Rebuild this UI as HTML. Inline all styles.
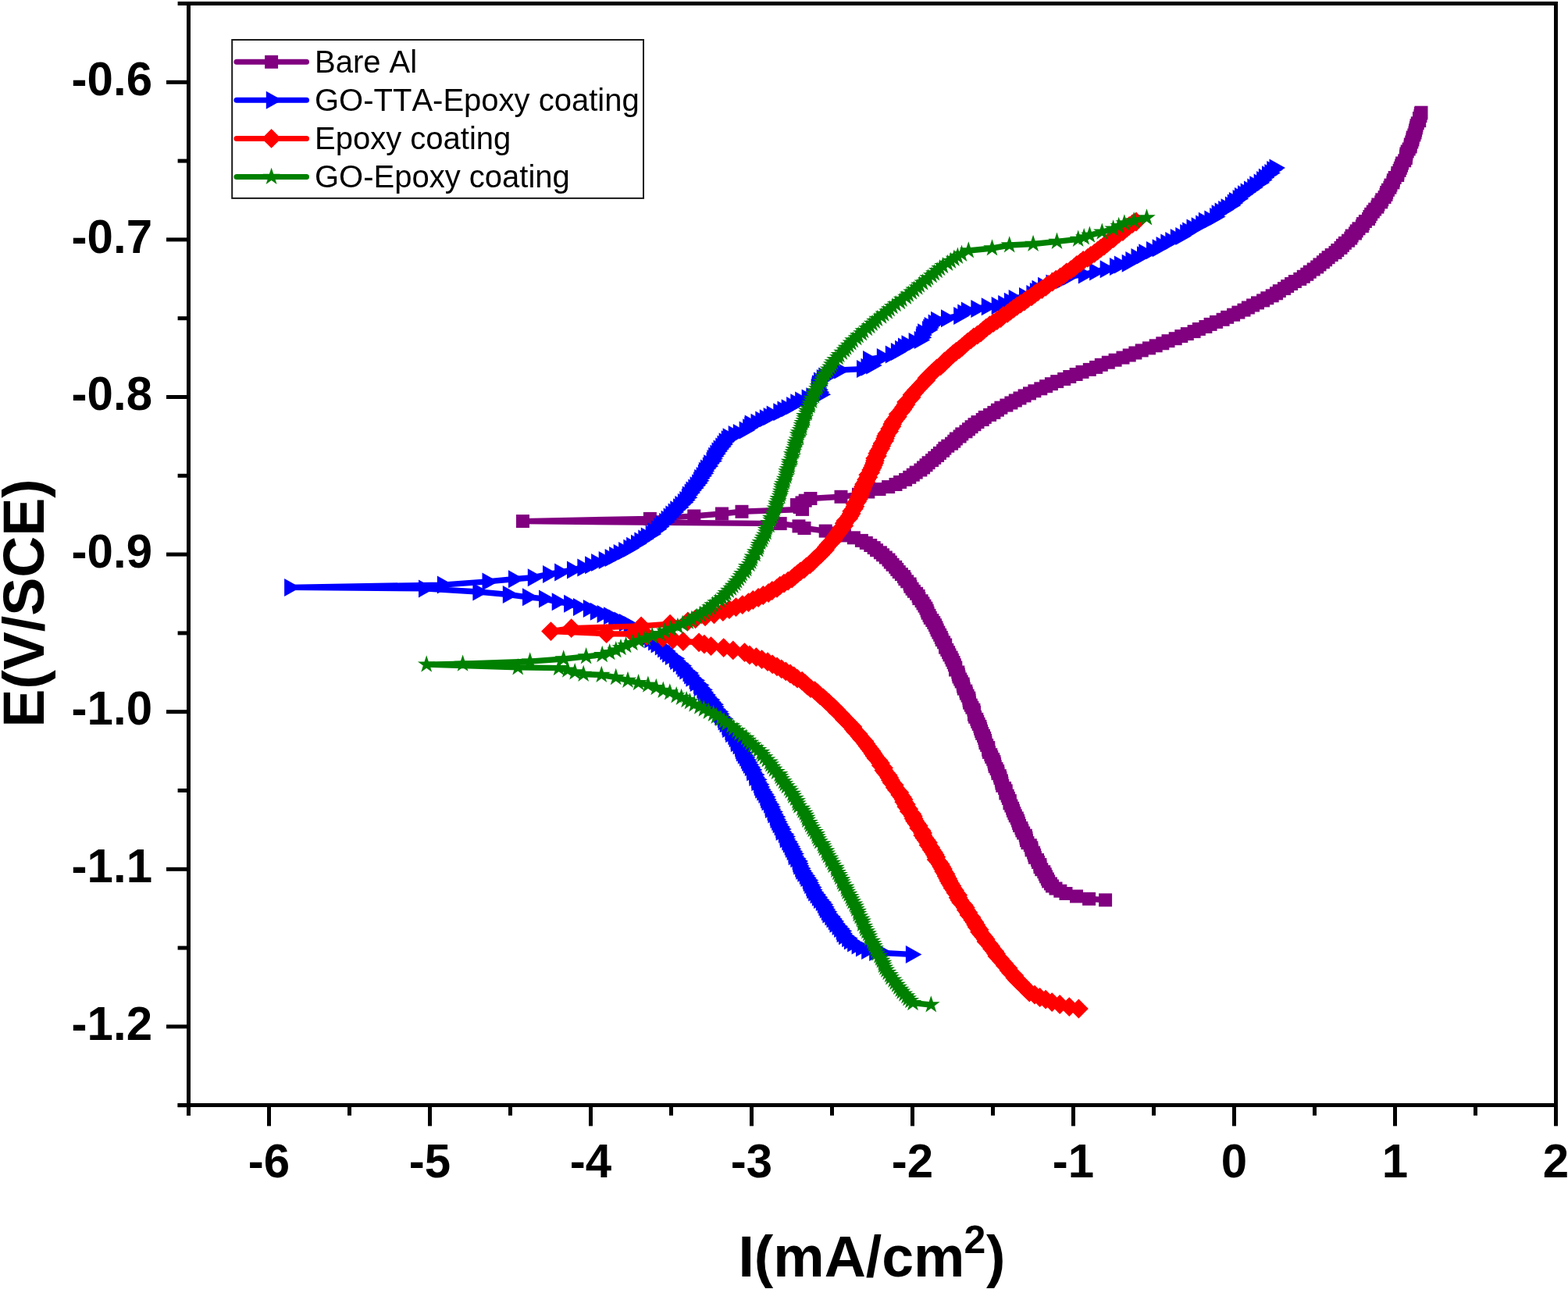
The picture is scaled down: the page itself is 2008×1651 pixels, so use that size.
<!DOCTYPE html><html><head><meta charset="utf-8"><style>html,body{margin:0;padding:0;background:#fff;overflow:hidden}svg{display:block}text{font-kerning:none}</style></head><body><svg xmlns="http://www.w3.org/2000/svg" width="2008" height="1651" viewBox="0 0 2008 1651"><g fill="#000"><rect x="227.6" y="2" width="1767.4" height="5"/><rect x="239" y="2" width="5" height="1427"/><rect x="227.6" y="1413" width="1767.4" height="5"/><rect x="1990" y="2" width="5" height="1416"/><rect x="213" y="102.8" width="27" height="5"/><rect x="213" y="304.4" width="27" height="5"/><rect x="213" y="506.0" width="27" height="5"/><rect x="213" y="707.6" width="27" height="5"/><rect x="213" y="909.2" width="27" height="5"/><rect x="213" y="1110.8" width="27" height="5"/><rect x="213" y="1312.4" width="27" height="5"/><rect x="227.6" y="203.6" width="12" height="5"/><rect x="227.6" y="405.2" width="12" height="5"/><rect x="227.6" y="606.8" width="12" height="5"/><rect x="227.6" y="808.4" width="12" height="5"/><rect x="227.6" y="1010.0" width="12" height="5"/><rect x="227.6" y="1211.6" width="12" height="5"/><rect x="227.6" y="1413.2" width="12" height="5"/><rect x="342.0" y="1417" width="5" height="25.3"/><rect x="548.0" y="1417" width="5" height="25.3"/><rect x="754.0" y="1417" width="5" height="25.3"/><rect x="960.0" y="1417" width="5" height="25.3"/><rect x="1166.0" y="1417" width="5" height="25.3"/><rect x="1372.0" y="1417" width="5" height="25.3"/><rect x="1578.0" y="1417" width="5" height="25.3"/><rect x="1784.0" y="1417" width="5" height="25.3"/><rect x="1990.0" y="1417" width="5" height="25.3"/><rect x="445.0" y="1417" width="5" height="11.8"/><rect x="651.0" y="1417" width="5" height="11.8"/><rect x="857.0" y="1417" width="5" height="11.8"/><rect x="1063.0" y="1417" width="5" height="11.8"/><rect x="1269.0" y="1417" width="5" height="11.8"/><rect x="1475.0" y="1417" width="5" height="11.8"/><rect x="1681.0" y="1417" width="5" height="11.8"/><rect x="1887.0" y="1417" width="5" height="11.8"/></g><g font-family="Liberation Sans, Arial, sans-serif" font-weight="bold" font-size="60" fill="#000"><text transform="translate(195 122.0) scale(1 1.03)" text-anchor="end">-0.6</text><text transform="translate(195 323.6) scale(1 1.03)" text-anchor="end">-0.7</text><text transform="translate(195 525.2) scale(1 1.03)" text-anchor="end">-0.8</text><text transform="translate(195 726.8) scale(1 1.03)" text-anchor="end">-0.9</text><text transform="translate(195 928.4) scale(1 1.03)" text-anchor="end">-1.0</text><text transform="translate(195 1130.0) scale(1 1.03)" text-anchor="end">-1.1</text><text transform="translate(195 1331.6) scale(1 1.03)" text-anchor="end">-1.2</text><text transform="translate(344.5 1507.9) scale(1 1.03)" text-anchor="middle">-6</text><text transform="translate(550.5 1507.9) scale(1 1.03)" text-anchor="middle">-5</text><text transform="translate(756.5 1507.9) scale(1 1.03)" text-anchor="middle">-4</text><text transform="translate(962.5 1507.9) scale(1 1.03)" text-anchor="middle">-3</text><text transform="translate(1168.5 1507.9) scale(1 1.03)" text-anchor="middle">-2</text><text transform="translate(1374.5 1507.9) scale(1 1.03)" text-anchor="middle">-1</text><text transform="translate(1580.5 1507.9) scale(1 1.03)" text-anchor="middle">0</text><text transform="translate(1786.5 1507.9) scale(1 1.03)" text-anchor="middle">1</text><text transform="translate(1992.5 1507.9) scale(1 1.03)" text-anchor="middle">2</text></g><text transform="translate(56,772.5) rotate(-90)" text-anchor="middle" font-family="Liberation Sans, Arial, sans-serif" font-weight="bold" font-size="73.5">E(V/SCE)</text><text x="945.4" y="1634.5" font-family="Liberation Sans, Arial, sans-serif" font-weight="bold" font-size="73.5">I(mA/cm<tspan x="1234.4" y="1604.8" font-size="50">2</tspan><tspan x="1263" y="1634.5">)</tspan></text><defs><path id="m0" d="M-8.5 -8.5h17v17h-17z"/><path id="m1" d="M-6.8 -11.5L13.7 0L-6.8 11.5z"/><path id="m2" d="M0 -12.4L12.4 0L0 12.4L-12.4 0z"/><path id="m3" d="M0.00 -11.80L2.70 -3.72L11.22 -3.65L4.37 1.42L6.94 9.55L0.00 4.60L-6.94 9.55L-4.37 1.42L-11.22 -3.65L-2.70 -3.72z"/></defs><rect x="297.2" y="51" width="526.8" height="202.9" fill="none" stroke="#1a1a1a" stroke-width="2"/><line x1="303" y1="79.3" x2="392.5" y2="79.3" stroke="#800080" stroke-width="7" stroke-linecap="round"/><use href="#m0" x="347.6" y="79.3" fill="#800080"/><text x="403" y="92.6" font-family="Liberation Sans, Arial, sans-serif" font-size="40">Bare Al</text><line x1="303" y1="128.3" x2="392.5" y2="128.3" stroke="#0000FF" stroke-width="7" stroke-linecap="round"/><use href="#m1" x="347.6" y="128.3" fill="#0000FF"/><text x="403" y="141.6" font-family="Liberation Sans, Arial, sans-serif" font-size="40">GO-TTA-Epoxy coating</text><line x1="303" y1="177.4" x2="392.5" y2="177.4" stroke="#FF0000" stroke-width="7" stroke-linecap="round"/><use href="#m2" x="347.6" y="177.4" fill="#FF0000"/><text x="403" y="190.7" font-family="Liberation Sans, Arial, sans-serif" font-size="40">Epoxy coating</text><line x1="303" y1="226.5" x2="392.5" y2="226.5" stroke="#008000" stroke-width="7" stroke-linecap="round"/><use href="#m3" x="347.6" y="226.5" fill="#008000"/><text x="403" y="239.8" font-family="Liberation Sans, Arial, sans-serif" font-size="40">GO-Epoxy coating</text><g fill="#800080"><path d="M1415.6 1152.8 1394.6 1151.3 1378.5 1148.0 1365.0 1144.5 1357.8 1141.2 1352.0 1138.0 1347.5 1134.9 1345.5 1131.9 1342.7 1128.9 1341.4 1125.9 1339.6 1122.8 1338.3 1119.8 1336.8 1116.7 1333.8 1113.7 1332.0 1110.6 1331.9 1107.5 1329.5 1104.4 1328.5 1101.4 1325.4 1098.3 1324.6 1095.2 1323.6 1092.1 1321.1 1088.9 1320.9 1085.8 1319.3 1082.7 1316.0 1079.6 1314.5 1076.4 1314.0 1073.3 1313.3 1070.2 1310.7 1067.0 1308.9 1063.9 1307.9 1060.7 1305.6 1057.5 1304.6 1054.4 1303.6 1051.2 1302.3 1048.0 1300.3 1044.9 1298.9 1041.7 1297.5 1038.5 1296.6 1035.3 1294.9 1032.1 1293.0 1028.9 1293.3 1025.7 1291.4 1022.5 1290.2 1019.3 1287.9 1016.1 1288.2 1012.9 1286.6 1009.6 1283.8 1006.4 1282.9 1003.2 1282.4 1000.0 1281.0 996.7 1280.3 993.7 1278.0 990.7 1277.7 987.7 1276.1 984.7 1274.2 981.7 1273.6 978.7 1273.0 975.7 1271.7 972.7 1269.8 969.7 1268.8 966.7 1266.5 963.6 1265.7 960.6 1265.7 957.6 1263.7 954.6 1262.0 951.6 1261.6 948.5 1260.7 945.5 1259.5 942.5 1257.7 939.5 1256.6 936.4 1255.6 933.4 1254.9 930.4 1253.2 927.4 1251.8 924.4 1250.8 921.3 1248.6 918.3 1247.5 915.3 1247.6 912.3 1246.9 909.2 1244.9 906.2 1243.3 903.2 1241.6 900.2 1241.1 897.1 1240.8 894.1 1239.1 891.1 1237.4 888.1 1236.8 885.1 1234.3 882.1 1233.6 879.0 1233.2 876.0 1231.2 873.0 1229.7 870.0 1228.0 867.0 1227.3 864.0 1226.8 861.0 1223.6 858.0 1223.8 855.0 1222.4 851.8 1221.1 848.5 1219.4 845.3 1218.1 842.1 1216.0 838.9 1214.6 835.7 1212.8 832.4 1210.6 829.2 1210.7 826.0 1208.6 822.8 1206.3 819.6 1205.3 816.5 1203.7 813.3 1201.9 810.1 1200.2 807.0 1199.0 803.8 1197.5 800.7 1195.8 797.6 1193.8 794.5 1191.3 791.4 1190.0 788.3 1188.1 785.2 1187.2 782.2 1185.9 779.1 1184.0 776.1 1182.0 772.9 1180.1 769.7 1176.9 766.6 1176.1 763.4 1173.6 760.3 1170.4 757.3 1168.1 754.2 1165.9 751.2 1165.1 748.0 1161.7 744.8 1158.9 741.7 1157.5 738.6 1154.4 735.6 1151.3 732.6 1148.8 729.4 1146.7 726.3 1143.1 723.3 1140.3 720.1 1138.0 717.0 1134.3 714.0 1130.6 710.8 1127.4 707.8 1122.6 704.7 1119.2 701.6 1114.8 698.5 1109.3 695.4 1103.4 692.4 1093.4 688.8 1081.4 685.9 1068.7 683.0 1057.2 680.1 1030.0 676.5 1023.0 673.9 999.2 670.6 669.5 667.6 832.4 664.4 888.8 661.0 924.5 658.0 950.0 655.3 1027.5 652.4 1024.2 649.5 1020.5 646.6 1027.0 643.9 1031.2 641.2 1038.0 638.5 1077.0 636.3 1099.5 633.3 1111.8 630.0 1126.0 626.6 1137.6 623.6 1147.0 620.5 1152.6 617.5 1159.6 614.4 1164.8 611.3 1169.3 608.2 1173.2 605.1 1178.9 602.0 1182.6 598.9 1186.0 595.8 1189.1 592.7 1193.6 589.6 1196.8 586.4 1200.6 583.4 1203.5 580.4 1207.6 577.3 1209.9 574.2 1213.8 571.2 1218.6 568.2 1221.8 565.2 1224.4 562.0 1229.1 559.0 1231.8 555.9 1237.0 552.8 1240.5 549.8 1244.1 546.7 1248.0 543.7 1252.0 540.6 1258.2 537.5 1261.3 534.4 1267.6 531.4 1272.9 528.4 1277.4 525.2 1281.9 522.2 1288.9 519.1 1294.9 516.0 1300.3 513.0 1306.0 510.0 1312.1 506.9 1318.5 503.9 1324.9 500.8 1332.8 497.8 1339.6 494.7 1346.4 491.7 1353.7 488.6 1362.7 485.5 1369.8 482.5 1378.1 479.5 1386.0 476.4 1395.3 473.4 1403.6 470.4 1410.3 467.3 1419.3 464.2 1428.1 461.2 1438.0 458.1 1446.2 455.0 1453.9 452.0 1462.2 448.9 1471.5 445.9 1480.2 442.8 1488.8 439.8 1496.0 436.7 1505.2 433.7 1512.8 430.6 1520.3 427.6 1529.1 424.6 1535.4 421.5 1543.9 418.5 1550.1 415.4 1557.5 412.4 1566.1 409.3 1571.7 406.3 1579.6 403.2 1585.9 400.1 1593.0 397.1 1598.4 394.0 1604.6 391.0 1610.5 387.9 1617.6 384.9 1622.8 381.8 1629.2 378.8 1634.5 375.8 1638.3 372.7 1644.5 369.6 1648.7 366.6 1653.6 363.5 1658.4 360.5 1664.8 357.4 1669.3 354.3 1673.8 351.3 1677.3 348.2 1682.2 345.0 1686.7 342.0 1690.0 338.9 1694.4 335.8 1697.6 332.8 1701.1 329.7 1705.2 326.6 1710.0 323.6 1712.8 320.5 1717.0 317.4 1719.5 314.3 1722.4 311.3 1726.5 308.2 1729.8 305.1 1731.2 302.0 1735.5 299.0 1737.2 295.9 1740.0 292.8 1744.4 289.7 1745.5 286.6 1748.4 283.5 1752.5 280.5 1753.9 277.4 1755.7 274.3 1758.3 271.1 1760.7 268.1 1763.9 265.1 1764.9 262.0 1768.7 258.9 1769.8 255.8 1773.1 252.6 1775.0 249.4 1775.7 246.4 1777.5 243.3 1779.9 240.2 1781.0 237.1 1783.9 233.9 1784.4 230.8 1786.2 227.5 1789.7 224.5 1789.9 221.5 1792.1 218.4 1793.3 215.3 1794.6 212.2 1795.6 209.0 1798.7 205.8 1800.3 202.6 1800.5 200.0 1800.9 197.0 1802.2 194.0 1804.2 191.0 1806.1 188.0 1806.3 185.0 1807.8 182.0 1808.9 179.0 1809.2 176.0 1810.9 173.0 1812.0 170.0 1812.6 166.9 1813.4 163.9 1814.0 160.8 1815.3 157.8 1817.7 154.7 1817.5 151.6 1818.9 148.6 1819.5 145.5 1820.0 144.2" fill="none" stroke="#800080" stroke-width="7.4" stroke-linejoin="round" stroke-linecap="round"/><use href="#m0" x="1415.6" y="1152.8"/><use href="#m0" x="1394.6" y="1151.3"/><use href="#m0" x="1378.5" y="1148.0"/><use href="#m0" x="1365.0" y="1144.5"/><use href="#m0" x="1357.8" y="1141.2"/><use href="#m0" x="1352.0" y="1138.0"/><use href="#m0" x="1347.5" y="1134.9"/><use href="#m0" x="1345.5" y="1131.9"/><use href="#m0" x="1342.7" y="1128.9"/><use href="#m0" x="1341.4" y="1125.9"/><use href="#m0" x="1339.6" y="1122.8"/><use href="#m0" x="1338.3" y="1119.8"/><use href="#m0" x="1336.8" y="1116.7"/><use href="#m0" x="1333.8" y="1113.7"/><use href="#m0" x="1332.0" y="1110.6"/><use href="#m0" x="1331.9" y="1107.5"/><use href="#m0" x="1329.5" y="1104.4"/><use href="#m0" x="1328.5" y="1101.4"/><use href="#m0" x="1325.4" y="1098.3"/><use href="#m0" x="1324.6" y="1095.2"/><use href="#m0" x="1323.6" y="1092.1"/><use href="#m0" x="1321.1" y="1088.9"/><use href="#m0" x="1320.9" y="1085.8"/><use href="#m0" x="1319.3" y="1082.7"/><use href="#m0" x="1316.0" y="1079.6"/><use href="#m0" x="1314.5" y="1076.4"/><use href="#m0" x="1314.0" y="1073.3"/><use href="#m0" x="1313.3" y="1070.2"/><use href="#m0" x="1310.7" y="1067.0"/><use href="#m0" x="1308.9" y="1063.9"/><use href="#m0" x="1307.9" y="1060.7"/><use href="#m0" x="1305.6" y="1057.5"/><use href="#m0" x="1304.6" y="1054.4"/><use href="#m0" x="1303.6" y="1051.2"/><use href="#m0" x="1302.3" y="1048.0"/><use href="#m0" x="1300.3" y="1044.9"/><use href="#m0" x="1298.9" y="1041.7"/><use href="#m0" x="1297.5" y="1038.5"/><use href="#m0" x="1296.6" y="1035.3"/><use href="#m0" x="1294.9" y="1032.1"/><use href="#m0" x="1293.0" y="1028.9"/><use href="#m0" x="1293.3" y="1025.7"/><use href="#m0" x="1291.4" y="1022.5"/><use href="#m0" x="1290.2" y="1019.3"/><use href="#m0" x="1287.9" y="1016.1"/><use href="#m0" x="1288.2" y="1012.9"/><use href="#m0" x="1286.6" y="1009.6"/><use href="#m0" x="1283.8" y="1006.4"/><use href="#m0" x="1282.9" y="1003.2"/><use href="#m0" x="1282.4" y="1000.0"/><use href="#m0" x="1281.0" y="996.7"/><use href="#m0" x="1280.3" y="993.7"/><use href="#m0" x="1278.0" y="990.7"/><use href="#m0" x="1277.7" y="987.7"/><use href="#m0" x="1276.1" y="984.7"/><use href="#m0" x="1274.2" y="981.7"/><use href="#m0" x="1273.6" y="978.7"/><use href="#m0" x="1273.0" y="975.7"/><use href="#m0" x="1271.7" y="972.7"/><use href="#m0" x="1269.8" y="969.7"/><use href="#m0" x="1268.8" y="966.7"/><use href="#m0" x="1266.5" y="963.6"/><use href="#m0" x="1265.7" y="960.6"/><use href="#m0" x="1265.7" y="957.6"/><use href="#m0" x="1263.7" y="954.6"/><use href="#m0" x="1262.0" y="951.6"/><use href="#m0" x="1261.6" y="948.5"/><use href="#m0" x="1260.7" y="945.5"/><use href="#m0" x="1259.5" y="942.5"/><use href="#m0" x="1257.7" y="939.5"/><use href="#m0" x="1256.6" y="936.4"/><use href="#m0" x="1255.6" y="933.4"/><use href="#m0" x="1254.9" y="930.4"/><use href="#m0" x="1253.2" y="927.4"/><use href="#m0" x="1251.8" y="924.4"/><use href="#m0" x="1250.8" y="921.3"/><use href="#m0" x="1248.6" y="918.3"/><use href="#m0" x="1247.5" y="915.3"/><use href="#m0" x="1247.6" y="912.3"/><use href="#m0" x="1246.9" y="909.2"/><use href="#m0" x="1244.9" y="906.2"/><use href="#m0" x="1243.3" y="903.2"/><use href="#m0" x="1241.6" y="900.2"/><use href="#m0" x="1241.1" y="897.1"/><use href="#m0" x="1240.8" y="894.1"/><use href="#m0" x="1239.1" y="891.1"/><use href="#m0" x="1237.4" y="888.1"/><use href="#m0" x="1236.8" y="885.1"/><use href="#m0" x="1234.3" y="882.1"/><use href="#m0" x="1233.6" y="879.0"/><use href="#m0" x="1233.2" y="876.0"/><use href="#m0" x="1231.2" y="873.0"/><use href="#m0" x="1229.7" y="870.0"/><use href="#m0" x="1228.0" y="867.0"/><use href="#m0" x="1227.3" y="864.0"/><use href="#m0" x="1226.8" y="861.0"/><use href="#m0" x="1223.6" y="858.0"/><use href="#m0" x="1223.8" y="855.0"/><use href="#m0" x="1222.4" y="851.8"/><use href="#m0" x="1221.1" y="848.5"/><use href="#m0" x="1219.4" y="845.3"/><use href="#m0" x="1218.1" y="842.1"/><use href="#m0" x="1216.0" y="838.9"/><use href="#m0" x="1214.6" y="835.7"/><use href="#m0" x="1212.8" y="832.4"/><use href="#m0" x="1210.6" y="829.2"/><use href="#m0" x="1210.7" y="826.0"/><use href="#m0" x="1208.6" y="822.8"/><use href="#m0" x="1206.3" y="819.6"/><use href="#m0" x="1205.3" y="816.5"/><use href="#m0" x="1203.7" y="813.3"/><use href="#m0" x="1201.9" y="810.1"/><use href="#m0" x="1200.2" y="807.0"/><use href="#m0" x="1199.0" y="803.8"/><use href="#m0" x="1197.5" y="800.7"/><use href="#m0" x="1195.8" y="797.6"/><use href="#m0" x="1193.8" y="794.5"/><use href="#m0" x="1191.3" y="791.4"/><use href="#m0" x="1190.0" y="788.3"/><use href="#m0" x="1188.1" y="785.2"/><use href="#m0" x="1187.2" y="782.2"/><use href="#m0" x="1185.9" y="779.1"/><use href="#m0" x="1184.0" y="776.1"/><use href="#m0" x="1182.0" y="772.9"/><use href="#m0" x="1180.1" y="769.7"/><use href="#m0" x="1176.9" y="766.6"/><use href="#m0" x="1176.1" y="763.4"/><use href="#m0" x="1173.6" y="760.3"/><use href="#m0" x="1170.4" y="757.3"/><use href="#m0" x="1168.1" y="754.2"/><use href="#m0" x="1165.9" y="751.2"/><use href="#m0" x="1165.1" y="748.0"/><use href="#m0" x="1161.7" y="744.8"/><use href="#m0" x="1158.9" y="741.7"/><use href="#m0" x="1157.5" y="738.6"/><use href="#m0" x="1154.4" y="735.6"/><use href="#m0" x="1151.3" y="732.6"/><use href="#m0" x="1148.8" y="729.4"/><use href="#m0" x="1146.7" y="726.3"/><use href="#m0" x="1143.1" y="723.3"/><use href="#m0" x="1140.3" y="720.1"/><use href="#m0" x="1138.0" y="717.0"/><use href="#m0" x="1134.3" y="714.0"/><use href="#m0" x="1130.6" y="710.8"/><use href="#m0" x="1127.4" y="707.8"/><use href="#m0" x="1122.6" y="704.7"/><use href="#m0" x="1119.2" y="701.6"/><use href="#m0" x="1114.8" y="698.5"/><use href="#m0" x="1109.3" y="695.4"/><use href="#m0" x="1103.4" y="692.4"/><use href="#m0" x="1093.4" y="688.8"/><use href="#m0" x="1081.4" y="685.9"/><use href="#m0" x="1068.7" y="683.0"/><use href="#m0" x="1057.2" y="680.1"/><use href="#m0" x="1030.0" y="676.5"/><use href="#m0" x="1023.0" y="673.9"/><use href="#m0" x="999.2" y="670.6"/><use href="#m0" x="669.5" y="667.6"/><use href="#m0" x="832.4" y="664.4"/><use href="#m0" x="888.8" y="661.0"/><use href="#m0" x="924.5" y="658.0"/><use href="#m0" x="950.0" y="655.3"/><use href="#m0" x="1027.5" y="652.4"/><use href="#m0" x="1024.2" y="649.5"/><use href="#m0" x="1020.5" y="646.6"/><use href="#m0" x="1027.0" y="643.9"/><use href="#m0" x="1031.2" y="641.2"/><use href="#m0" x="1038.0" y="638.5"/><use href="#m0" x="1077.0" y="636.3"/><use href="#m0" x="1099.5" y="633.3"/><use href="#m0" x="1111.8" y="630.0"/><use href="#m0" x="1126.0" y="626.6"/><use href="#m0" x="1137.6" y="623.6"/><use href="#m0" x="1147.0" y="620.5"/><use href="#m0" x="1152.6" y="617.5"/><use href="#m0" x="1159.6" y="614.4"/><use href="#m0" x="1164.8" y="611.3"/><use href="#m0" x="1169.3" y="608.2"/><use href="#m0" x="1173.2" y="605.1"/><use href="#m0" x="1178.9" y="602.0"/><use href="#m0" x="1182.6" y="598.9"/><use href="#m0" x="1186.0" y="595.8"/><use href="#m0" x="1189.1" y="592.7"/><use href="#m0" x="1193.6" y="589.6"/><use href="#m0" x="1196.8" y="586.4"/><use href="#m0" x="1200.6" y="583.4"/><use href="#m0" x="1203.5" y="580.4"/><use href="#m0" x="1207.6" y="577.3"/><use href="#m0" x="1209.9" y="574.2"/><use href="#m0" x="1213.8" y="571.2"/><use href="#m0" x="1218.6" y="568.2"/><use href="#m0" x="1221.8" y="565.2"/><use href="#m0" x="1224.4" y="562.0"/><use href="#m0" x="1229.1" y="559.0"/><use href="#m0" x="1231.8" y="555.9"/><use href="#m0" x="1237.0" y="552.8"/><use href="#m0" x="1240.5" y="549.8"/><use href="#m0" x="1244.1" y="546.7"/><use href="#m0" x="1248.0" y="543.7"/><use href="#m0" x="1252.0" y="540.6"/><use href="#m0" x="1258.2" y="537.5"/><use href="#m0" x="1261.3" y="534.4"/><use href="#m0" x="1267.6" y="531.4"/><use href="#m0" x="1272.9" y="528.4"/><use href="#m0" x="1277.4" y="525.2"/><use href="#m0" x="1281.9" y="522.2"/><use href="#m0" x="1288.9" y="519.1"/><use href="#m0" x="1294.9" y="516.0"/><use href="#m0" x="1300.3" y="513.0"/><use href="#m0" x="1306.0" y="510.0"/><use href="#m0" x="1312.1" y="506.9"/><use href="#m0" x="1318.5" y="503.9"/><use href="#m0" x="1324.9" y="500.8"/><use href="#m0" x="1332.8" y="497.8"/><use href="#m0" x="1339.6" y="494.7"/><use href="#m0" x="1346.4" y="491.7"/><use href="#m0" x="1353.7" y="488.6"/><use href="#m0" x="1362.7" y="485.5"/><use href="#m0" x="1369.8" y="482.5"/><use href="#m0" x="1378.1" y="479.5"/><use href="#m0" x="1386.0" y="476.4"/><use href="#m0" x="1395.3" y="473.4"/><use href="#m0" x="1403.6" y="470.4"/><use href="#m0" x="1410.3" y="467.3"/><use href="#m0" x="1419.3" y="464.2"/><use href="#m0" x="1428.1" y="461.2"/><use href="#m0" x="1438.0" y="458.1"/><use href="#m0" x="1446.2" y="455.0"/><use href="#m0" x="1453.9" y="452.0"/><use href="#m0" x="1462.2" y="448.9"/><use href="#m0" x="1471.5" y="445.9"/><use href="#m0" x="1480.2" y="442.8"/><use href="#m0" x="1488.8" y="439.8"/><use href="#m0" x="1496.0" y="436.7"/><use href="#m0" x="1505.2" y="433.7"/><use href="#m0" x="1512.8" y="430.6"/><use href="#m0" x="1520.3" y="427.6"/><use href="#m0" x="1529.1" y="424.6"/><use href="#m0" x="1535.4" y="421.5"/><use href="#m0" x="1543.9" y="418.5"/><use href="#m0" x="1550.1" y="415.4"/><use href="#m0" x="1557.5" y="412.4"/><use href="#m0" x="1566.1" y="409.3"/><use href="#m0" x="1571.7" y="406.3"/><use href="#m0" x="1579.6" y="403.2"/><use href="#m0" x="1585.9" y="400.1"/><use href="#m0" x="1593.0" y="397.1"/><use href="#m0" x="1598.4" y="394.0"/><use href="#m0" x="1604.6" y="391.0"/><use href="#m0" x="1610.5" y="387.9"/><use href="#m0" x="1617.6" y="384.9"/><use href="#m0" x="1622.8" y="381.8"/><use href="#m0" x="1629.2" y="378.8"/><use href="#m0" x="1634.5" y="375.8"/><use href="#m0" x="1638.3" y="372.7"/><use href="#m0" x="1644.5" y="369.6"/><use href="#m0" x="1648.7" y="366.6"/><use href="#m0" x="1653.6" y="363.5"/><use href="#m0" x="1658.4" y="360.5"/><use href="#m0" x="1664.8" y="357.4"/><use href="#m0" x="1669.3" y="354.3"/><use href="#m0" x="1673.8" y="351.3"/><use href="#m0" x="1677.3" y="348.2"/><use href="#m0" x="1682.2" y="345.0"/><use href="#m0" x="1686.7" y="342.0"/><use href="#m0" x="1690.0" y="338.9"/><use href="#m0" x="1694.4" y="335.8"/><use href="#m0" x="1697.6" y="332.8"/><use href="#m0" x="1701.1" y="329.7"/><use href="#m0" x="1705.2" y="326.6"/><use href="#m0" x="1710.0" y="323.6"/><use href="#m0" x="1712.8" y="320.5"/><use href="#m0" x="1717.0" y="317.4"/><use href="#m0" x="1719.5" y="314.3"/><use href="#m0" x="1722.4" y="311.3"/><use href="#m0" x="1726.5" y="308.2"/><use href="#m0" x="1729.8" y="305.1"/><use href="#m0" x="1731.2" y="302.0"/><use href="#m0" x="1735.5" y="299.0"/><use href="#m0" x="1737.2" y="295.9"/><use href="#m0" x="1740.0" y="292.8"/><use href="#m0" x="1744.4" y="289.7"/><use href="#m0" x="1745.5" y="286.6"/><use href="#m0" x="1748.4" y="283.5"/><use href="#m0" x="1752.5" y="280.5"/><use href="#m0" x="1753.9" y="277.4"/><use href="#m0" x="1755.7" y="274.3"/><use href="#m0" x="1758.3" y="271.1"/><use href="#m0" x="1760.7" y="268.1"/><use href="#m0" x="1763.9" y="265.1"/><use href="#m0" x="1764.9" y="262.0"/><use href="#m0" x="1768.7" y="258.9"/><use href="#m0" x="1769.8" y="255.8"/><use href="#m0" x="1773.1" y="252.6"/><use href="#m0" x="1775.0" y="249.4"/><use href="#m0" x="1775.7" y="246.4"/><use href="#m0" x="1777.5" y="243.3"/><use href="#m0" x="1779.9" y="240.2"/><use href="#m0" x="1781.0" y="237.1"/><use href="#m0" x="1783.9" y="233.9"/><use href="#m0" x="1784.4" y="230.8"/><use href="#m0" x="1786.2" y="227.5"/><use href="#m0" x="1789.7" y="224.5"/><use href="#m0" x="1789.9" y="221.5"/><use href="#m0" x="1792.1" y="218.4"/><use href="#m0" x="1793.3" y="215.3"/><use href="#m0" x="1794.6" y="212.2"/><use href="#m0" x="1795.6" y="209.0"/><use href="#m0" x="1798.7" y="205.8"/><use href="#m0" x="1800.3" y="202.6"/><use href="#m0" x="1800.5" y="200.0"/><use href="#m0" x="1800.9" y="197.0"/><use href="#m0" x="1802.2" y="194.0"/><use href="#m0" x="1804.2" y="191.0"/><use href="#m0" x="1806.1" y="188.0"/><use href="#m0" x="1806.3" y="185.0"/><use href="#m0" x="1807.8" y="182.0"/><use href="#m0" x="1808.9" y="179.0"/><use href="#m0" x="1809.2" y="176.0"/><use href="#m0" x="1810.9" y="173.0"/><use href="#m0" x="1812.0" y="170.0"/><use href="#m0" x="1812.6" y="166.9"/><use href="#m0" x="1813.4" y="163.9"/><use href="#m0" x="1814.0" y="160.8"/><use href="#m0" x="1815.3" y="157.8"/><use href="#m0" x="1817.7" y="154.7"/><use href="#m0" x="1817.5" y="151.6"/><use href="#m0" x="1818.9" y="148.6"/><use href="#m0" x="1819.5" y="145.5"/><use href="#m0" x="1820.0" y="144.2"/></g><g fill="#0000FF"><path d="M1166.7 1222.4 1130.0 1220.5 1120.0 1219.5 1110.0 1217.5 1102.8 1214.1 1097.4 1211.1 1092.0 1208.0 1087.7 1204.9 1085.0 1201.7 1080.8 1198.7 1078.4 1195.7 1077.5 1192.6 1074.9 1189.5 1072.4 1186.4 1069.3 1183.3 1067.6 1180.1 1065.3 1176.9 1063.2 1173.9 1060.2 1170.9 1058.7 1167.8 1056.6 1164.8 1055.2 1161.7 1053.7 1158.6 1051.6 1155.5 1048.8 1152.4 1046.7 1149.2 1044.4 1146.1 1042.0 1142.9 1040.0 1139.7 1039.0 1136.5 1037.0 1133.5 1035.4 1130.5 1034.6 1127.5 1032.2 1124.4 1030.6 1121.4 1028.2 1118.3 1026.1 1115.3 1025.0 1112.2 1023.0 1109.1 1022.1 1106.0 1021.4 1102.9 1019.1 1099.8 1016.5 1096.7 1016.3 1093.6 1014.5 1090.5 1012.7 1087.3 1011.5 1084.2 1009.6 1081.0 1008.1 1077.9 1005.6 1074.7 1005.3 1071.6 1003.7 1068.4 1000.5 1065.2 1000.1 1062.1 998.4 1058.9 996.4 1055.7 995.0 1052.5 993.3 1049.4 992.6 1046.2 990.2 1043.0 989.3 1039.8 986.8 1036.6 986.3 1033.4 984.8 1030.3 982.3 1027.1 981.0 1023.9 980.1 1020.7 978.2 1017.5 976.1 1014.3 974.0 1011.2 972.6 1008.0 971.8 1004.8 969.2 1001.7 969.0 998.5 966.2 995.4 965.9 992.2 963.0 989.1 962.7 985.9 960.6 982.8 958.6 979.6 957.0 976.5 955.6 973.4 953.8 970.3 951.6 967.2 949.7 964.1 948.6 961.0 947.8 958.0 945.4 954.9 942.6 951.8 942.4 948.8 940.5 945.7 939.1 942.7 935.9 939.7 935.2 936.7 931.9 933.5 931.1 930.3 928.4 927.1 926.4 924.0 925.7 920.8 922.1 917.7 920.9 914.6 919.5 911.5 916.2 908.4 914.1 905.3 913.3 902.3 910.3 899.3 908.7 896.3 905.0 893.1 903.3 889.9 900.6 886.8 899.2 883.6 895.5 880.6 894.8 877.5 890.5 874.4 889.4 871.4 885.2 868.2 882.9 865.1 881.3 862.0 877.1 858.9 874.3 855.9 872.4 852.8 868.7 849.7 864.9 846.6 863.6 843.5 858.6 840.4 854.9 837.3 852.0 834.1 848.9 831.1 845.6 828.1 840.4 824.9 836.9 821.9 832.2 818.8 828.7 815.7 825.0 812.7 820.3 809.6 815.8 806.5 810.5 803.4 805.5 800.4 799.7 797.4 793.2 795.1 786.0 792.0 779.8 788.8 771.4 786.4 762.6 783.3 753.6 779.4 740.8 777.4 728.9 773.2 713.5 770.8 696.8 766.9 675.8 764.8 650.6 761.5 612.2 758.0 542.8 753.9 370.9 752.4 566.7 749.1 624.3 744.9 657.8 741.7 682.6 739.7 701.8 735.5 716.9 733.1 732.8 729.9 746.2 726.9 755.9 723.7 763.9 720.6 773.5 717.6 781.4 714.5 786.9 711.5 792.5 708.4 798.9 705.4 805.2 702.3 808.9 699.3 814.8 696.2 819.2 693.1 824.1 690.0 827.6 687.0 833.5 683.9 836.1 680.8 840.7 677.7 843.9 674.6 846.6 671.5 851.0 668.4 853.4 665.3 856.4 662.1 859.2 659.1 862.4 656.0 865.1 652.8 868.9 649.7 871.2 646.6 874.7 643.5 877.1 640.4 879.7 637.3 880.6 634.1 883.4 630.9 885.3 627.9 888.1 624.9 890.4 621.8 892.9 618.8 894.8 615.7 896.0 612.6 898.4 609.4 900.7 606.3 901.7 603.2 903.8 600.0 906.6 596.9 908.0 593.8 911.3 590.6 912.3 587.5 914.0 584.3 916.2 581.2 918.3 578.1 920.4 575.1 923.1 572.0 925.3 568.9 927.4 565.8 930.5 562.8 932.4 559.7 939.5 556.5 945.6 554.4 953.4 551.0 957.9 547.8 960.1 545.3 960.5 542.9 968.3 541.3 974.1 538.0 979.6 535.8 984.5 533.4 988.5 531.0 997.1 527.7 1002.3 525.1 1007.5 522.8 1013.9 519.6 1019.1 515.7 1025.0 513.1 1033.4 509.9 1039.2 507.7 1050.4 505.2 1048.6 502.3 1047.2 499.3 1045.5 496.4 1046.3 494.1 1046.8 491.8 1048.8 488.1 1052.6 484.4 1055.1 481.9 1061.6 479.3 1068.4 476.6 1075.0 474.0 1103.8 472.6 1109.3 470.3 1116.0 468.0 1113.1 464.2 1111.8 460.5 1129.6 457.4 1140.6 454.1 1147.7 450.4 1152.9 447.2 1156.8 444.0 1161.3 440.7 1170.4 437.5 1177.5 435.5 1179.6 432.3 1180.2 429.0 1182.0 425.8 1187.8 422.6 1189.1 420.0 1190.4 417.4 1195.5 413.9 1198.9 410.3 1211.8 407.7 1228.0 404.4 1233.1 401.1 1237.7 397.9 1250.2 395.4 1263.6 392.8 1276.5 391.5 1285.0 389.6 1292.7 386.3 1298.5 382.4 1311.8 379.6 1321.2 376.5 1325.7 373.4 1328.3 370.2 1335.9 366.2 1346.3 363.0 1353.4 360.3 1360.6 358.1 1368.3 354.2 1387.7 351.9 1401.9 348.1 1415.5 344.8 1427.8 341.6 1433.7 339.0 1443.5 337.2 1448.2 333.5 1455.3 329.6 1462.8 326.7 1465.1 323.8 1474.8 320.6 1482.5 317.7 1487.4 314.4 1493.1 311.1 1499.1 308.6 1505.6 304.6 1512.1 302.4 1518.0 298.6 1521.0 295.9 1526.3 291.9 1532.5 289.7 1538.0 286.9 1541.7 283.2 1549.2 281.0 1555.9 277.5 1558.4 273.7 1562.4 271.1 1567.0 268.5 1570.4 265.7 1575.7 262.9 1578.6 260.1 1580.7 257.4 1585.4 254.6 1587.8 251.6 1591.8 248.7 1595.4 245.9 1599.8 243.1 1604.1 239.9 1607.1 236.8 1612.4 233.9 1615.9 230.6 1618.7 227.3 1622.8 223.7 1626.2 221.5 1629.1 217.6 1632.3 215.0" fill="none" stroke="#0000FF" stroke-width="7.4" stroke-linejoin="round" stroke-linecap="round"/><use href="#m1" x="1166.7" y="1222.4"/><use href="#m1" x="1130.0" y="1220.5"/><use href="#m1" x="1120.0" y="1219.5"/><use href="#m1" x="1110.0" y="1217.5"/><use href="#m1" x="1102.8" y="1214.1"/><use href="#m1" x="1097.4" y="1211.1"/><use href="#m1" x="1092.0" y="1208.0"/><use href="#m1" x="1087.7" y="1204.9"/><use href="#m1" x="1085.0" y="1201.7"/><use href="#m1" x="1080.8" y="1198.7"/><use href="#m1" x="1078.4" y="1195.7"/><use href="#m1" x="1077.5" y="1192.6"/><use href="#m1" x="1074.9" y="1189.5"/><use href="#m1" x="1072.4" y="1186.4"/><use href="#m1" x="1069.3" y="1183.3"/><use href="#m1" x="1067.6" y="1180.1"/><use href="#m1" x="1065.3" y="1176.9"/><use href="#m1" x="1063.2" y="1173.9"/><use href="#m1" x="1060.2" y="1170.9"/><use href="#m1" x="1058.7" y="1167.8"/><use href="#m1" x="1056.6" y="1164.8"/><use href="#m1" x="1055.2" y="1161.7"/><use href="#m1" x="1053.7" y="1158.6"/><use href="#m1" x="1051.6" y="1155.5"/><use href="#m1" x="1048.8" y="1152.4"/><use href="#m1" x="1046.7" y="1149.2"/><use href="#m1" x="1044.4" y="1146.1"/><use href="#m1" x="1042.0" y="1142.9"/><use href="#m1" x="1040.0" y="1139.7"/><use href="#m1" x="1039.0" y="1136.5"/><use href="#m1" x="1037.0" y="1133.5"/><use href="#m1" x="1035.4" y="1130.5"/><use href="#m1" x="1034.6" y="1127.5"/><use href="#m1" x="1032.2" y="1124.4"/><use href="#m1" x="1030.6" y="1121.4"/><use href="#m1" x="1028.2" y="1118.3"/><use href="#m1" x="1026.1" y="1115.3"/><use href="#m1" x="1025.0" y="1112.2"/><use href="#m1" x="1023.0" y="1109.1"/><use href="#m1" x="1022.1" y="1106.0"/><use href="#m1" x="1021.4" y="1102.9"/><use href="#m1" x="1019.1" y="1099.8"/><use href="#m1" x="1016.5" y="1096.7"/><use href="#m1" x="1016.3" y="1093.6"/><use href="#m1" x="1014.5" y="1090.5"/><use href="#m1" x="1012.7" y="1087.3"/><use href="#m1" x="1011.5" y="1084.2"/><use href="#m1" x="1009.6" y="1081.0"/><use href="#m1" x="1008.1" y="1077.9"/><use href="#m1" x="1005.6" y="1074.7"/><use href="#m1" x="1005.3" y="1071.6"/><use href="#m1" x="1003.7" y="1068.4"/><use href="#m1" x="1000.5" y="1065.2"/><use href="#m1" x="1000.1" y="1062.1"/><use href="#m1" x="998.4" y="1058.9"/><use href="#m1" x="996.4" y="1055.7"/><use href="#m1" x="995.0" y="1052.5"/><use href="#m1" x="993.3" y="1049.4"/><use href="#m1" x="992.6" y="1046.2"/><use href="#m1" x="990.2" y="1043.0"/><use href="#m1" x="989.3" y="1039.8"/><use href="#m1" x="986.8" y="1036.6"/><use href="#m1" x="986.3" y="1033.4"/><use href="#m1" x="984.8" y="1030.3"/><use href="#m1" x="982.3" y="1027.1"/><use href="#m1" x="981.0" y="1023.9"/><use href="#m1" x="980.1" y="1020.7"/><use href="#m1" x="978.2" y="1017.5"/><use href="#m1" x="976.1" y="1014.3"/><use href="#m1" x="974.0" y="1011.2"/><use href="#m1" x="972.6" y="1008.0"/><use href="#m1" x="971.8" y="1004.8"/><use href="#m1" x="969.2" y="1001.7"/><use href="#m1" x="969.0" y="998.5"/><use href="#m1" x="966.2" y="995.4"/><use href="#m1" x="965.9" y="992.2"/><use href="#m1" x="963.0" y="989.1"/><use href="#m1" x="962.7" y="985.9"/><use href="#m1" x="960.6" y="982.8"/><use href="#m1" x="958.6" y="979.6"/><use href="#m1" x="957.0" y="976.5"/><use href="#m1" x="955.6" y="973.4"/><use href="#m1" x="953.8" y="970.3"/><use href="#m1" x="951.6" y="967.2"/><use href="#m1" x="949.7" y="964.1"/><use href="#m1" x="948.6" y="961.0"/><use href="#m1" x="947.8" y="958.0"/><use href="#m1" x="945.4" y="954.9"/><use href="#m1" x="942.6" y="951.8"/><use href="#m1" x="942.4" y="948.8"/><use href="#m1" x="940.5" y="945.7"/><use href="#m1" x="939.1" y="942.7"/><use href="#m1" x="935.9" y="939.7"/><use href="#m1" x="935.2" y="936.7"/><use href="#m1" x="931.9" y="933.5"/><use href="#m1" x="931.1" y="930.3"/><use href="#m1" x="928.4" y="927.1"/><use href="#m1" x="926.4" y="924.0"/><use href="#m1" x="925.7" y="920.8"/><use href="#m1" x="922.1" y="917.7"/><use href="#m1" x="920.9" y="914.6"/><use href="#m1" x="919.5" y="911.5"/><use href="#m1" x="916.2" y="908.4"/><use href="#m1" x="914.1" y="905.3"/><use href="#m1" x="913.3" y="902.3"/><use href="#m1" x="910.3" y="899.3"/><use href="#m1" x="908.7" y="896.3"/><use href="#m1" x="905.0" y="893.1"/><use href="#m1" x="903.3" y="889.9"/><use href="#m1" x="900.6" y="886.8"/><use href="#m1" x="899.2" y="883.6"/><use href="#m1" x="895.5" y="880.6"/><use href="#m1" x="894.8" y="877.5"/><use href="#m1" x="890.5" y="874.4"/><use href="#m1" x="889.4" y="871.4"/><use href="#m1" x="885.2" y="868.2"/><use href="#m1" x="882.9" y="865.1"/><use href="#m1" x="881.3" y="862.0"/><use href="#m1" x="877.1" y="858.9"/><use href="#m1" x="874.3" y="855.9"/><use href="#m1" x="872.4" y="852.8"/><use href="#m1" x="868.7" y="849.7"/><use href="#m1" x="864.9" y="846.6"/><use href="#m1" x="863.6" y="843.5"/><use href="#m1" x="858.6" y="840.4"/><use href="#m1" x="854.9" y="837.3"/><use href="#m1" x="852.0" y="834.1"/><use href="#m1" x="848.9" y="831.1"/><use href="#m1" x="845.6" y="828.1"/><use href="#m1" x="840.4" y="824.9"/><use href="#m1" x="836.9" y="821.9"/><use href="#m1" x="832.2" y="818.8"/><use href="#m1" x="828.7" y="815.7"/><use href="#m1" x="825.0" y="812.7"/><use href="#m1" x="820.3" y="809.6"/><use href="#m1" x="815.8" y="806.5"/><use href="#m1" x="810.5" y="803.4"/><use href="#m1" x="805.5" y="800.4"/><use href="#m1" x="799.7" y="797.4"/><use href="#m1" x="793.2" y="795.1"/><use href="#m1" x="786.0" y="792.0"/><use href="#m1" x="779.8" y="788.8"/><use href="#m1" x="771.4" y="786.4"/><use href="#m1" x="762.6" y="783.3"/><use href="#m1" x="753.6" y="779.4"/><use href="#m1" x="740.8" y="777.4"/><use href="#m1" x="728.9" y="773.2"/><use href="#m1" x="713.5" y="770.8"/><use href="#m1" x="696.8" y="766.9"/><use href="#m1" x="675.8" y="764.8"/><use href="#m1" x="650.6" y="761.5"/><use href="#m1" x="612.2" y="758.0"/><use href="#m1" x="542.8" y="753.9"/><use href="#m1" x="370.9" y="752.4"/><use href="#m1" x="566.7" y="749.1"/><use href="#m1" x="624.3" y="744.9"/><use href="#m1" x="657.8" y="741.7"/><use href="#m1" x="682.6" y="739.7"/><use href="#m1" x="701.8" y="735.5"/><use href="#m1" x="716.9" y="733.1"/><use href="#m1" x="732.8" y="729.9"/><use href="#m1" x="746.2" y="726.9"/><use href="#m1" x="755.9" y="723.7"/><use href="#m1" x="763.9" y="720.6"/><use href="#m1" x="773.5" y="717.6"/><use href="#m1" x="781.4" y="714.5"/><use href="#m1" x="786.9" y="711.5"/><use href="#m1" x="792.5" y="708.4"/><use href="#m1" x="798.9" y="705.4"/><use href="#m1" x="805.2" y="702.3"/><use href="#m1" x="808.9" y="699.3"/><use href="#m1" x="814.8" y="696.2"/><use href="#m1" x="819.2" y="693.1"/><use href="#m1" x="824.1" y="690.0"/><use href="#m1" x="827.6" y="687.0"/><use href="#m1" x="833.5" y="683.9"/><use href="#m1" x="836.1" y="680.8"/><use href="#m1" x="840.7" y="677.7"/><use href="#m1" x="843.9" y="674.6"/><use href="#m1" x="846.6" y="671.5"/><use href="#m1" x="851.0" y="668.4"/><use href="#m1" x="853.4" y="665.3"/><use href="#m1" x="856.4" y="662.1"/><use href="#m1" x="859.2" y="659.1"/><use href="#m1" x="862.4" y="656.0"/><use href="#m1" x="865.1" y="652.8"/><use href="#m1" x="868.9" y="649.7"/><use href="#m1" x="871.2" y="646.6"/><use href="#m1" x="874.7" y="643.5"/><use href="#m1" x="877.1" y="640.4"/><use href="#m1" x="879.7" y="637.3"/><use href="#m1" x="880.6" y="634.1"/><use href="#m1" x="883.4" y="630.9"/><use href="#m1" x="885.3" y="627.9"/><use href="#m1" x="888.1" y="624.9"/><use href="#m1" x="890.4" y="621.8"/><use href="#m1" x="892.9" y="618.8"/><use href="#m1" x="894.8" y="615.7"/><use href="#m1" x="896.0" y="612.6"/><use href="#m1" x="898.4" y="609.4"/><use href="#m1" x="900.7" y="606.3"/><use href="#m1" x="901.7" y="603.2"/><use href="#m1" x="903.8" y="600.0"/><use href="#m1" x="906.6" y="596.9"/><use href="#m1" x="908.0" y="593.8"/><use href="#m1" x="911.3" y="590.6"/><use href="#m1" x="912.3" y="587.5"/><use href="#m1" x="914.0" y="584.3"/><use href="#m1" x="916.2" y="581.2"/><use href="#m1" x="918.3" y="578.1"/><use href="#m1" x="920.4" y="575.1"/><use href="#m1" x="923.1" y="572.0"/><use href="#m1" x="925.3" y="568.9"/><use href="#m1" x="927.4" y="565.8"/><use href="#m1" x="930.5" y="562.8"/><use href="#m1" x="932.4" y="559.7"/><use href="#m1" x="939.5" y="556.5"/><use href="#m1" x="945.6" y="554.4"/><use href="#m1" x="953.4" y="551.0"/><use href="#m1" x="957.9" y="547.8"/><use href="#m1" x="960.1" y="545.3"/><use href="#m1" x="960.5" y="542.9"/><use href="#m1" x="968.3" y="541.3"/><use href="#m1" x="974.1" y="538.0"/><use href="#m1" x="979.6" y="535.8"/><use href="#m1" x="984.5" y="533.4"/><use href="#m1" x="988.5" y="531.0"/><use href="#m1" x="997.1" y="527.7"/><use href="#m1" x="1002.3" y="525.1"/><use href="#m1" x="1007.5" y="522.8"/><use href="#m1" x="1013.9" y="519.6"/><use href="#m1" x="1019.1" y="515.7"/><use href="#m1" x="1025.0" y="513.1"/><use href="#m1" x="1033.4" y="509.9"/><use href="#m1" x="1039.2" y="507.7"/><use href="#m1" x="1050.4" y="505.2"/><use href="#m1" x="1048.6" y="502.3"/><use href="#m1" x="1047.2" y="499.3"/><use href="#m1" x="1045.5" y="496.4"/><use href="#m1" x="1046.3" y="494.1"/><use href="#m1" x="1046.8" y="491.8"/><use href="#m1" x="1048.8" y="488.1"/><use href="#m1" x="1052.6" y="484.4"/><use href="#m1" x="1055.1" y="481.9"/><use href="#m1" x="1061.6" y="479.3"/><use href="#m1" x="1068.4" y="476.6"/><use href="#m1" x="1075.0" y="474.0"/><use href="#m1" x="1103.8" y="472.6"/><use href="#m1" x="1109.3" y="470.3"/><use href="#m1" x="1116.0" y="468.0"/><use href="#m1" x="1113.1" y="464.2"/><use href="#m1" x="1111.8" y="460.5"/><use href="#m1" x="1129.6" y="457.4"/><use href="#m1" x="1140.6" y="454.1"/><use href="#m1" x="1147.7" y="450.4"/><use href="#m1" x="1152.9" y="447.2"/><use href="#m1" x="1156.8" y="444.0"/><use href="#m1" x="1161.3" y="440.7"/><use href="#m1" x="1170.4" y="437.5"/><use href="#m1" x="1177.5" y="435.5"/><use href="#m1" x="1179.6" y="432.3"/><use href="#m1" x="1180.2" y="429.0"/><use href="#m1" x="1182.0" y="425.8"/><use href="#m1" x="1187.8" y="422.6"/><use href="#m1" x="1189.1" y="420.0"/><use href="#m1" x="1190.4" y="417.4"/><use href="#m1" x="1195.5" y="413.9"/><use href="#m1" x="1198.9" y="410.3"/><use href="#m1" x="1211.8" y="407.7"/><use href="#m1" x="1228.0" y="404.4"/><use href="#m1" x="1233.1" y="401.1"/><use href="#m1" x="1237.7" y="397.9"/><use href="#m1" x="1250.2" y="395.4"/><use href="#m1" x="1263.6" y="392.8"/><use href="#m1" x="1276.5" y="391.5"/><use href="#m1" x="1285.0" y="389.6"/><use href="#m1" x="1292.7" y="386.3"/><use href="#m1" x="1298.5" y="382.4"/><use href="#m1" x="1311.8" y="379.6"/><use href="#m1" x="1321.2" y="376.5"/><use href="#m1" x="1325.7" y="373.4"/><use href="#m1" x="1328.3" y="370.2"/><use href="#m1" x="1335.9" y="366.2"/><use href="#m1" x="1346.3" y="363.0"/><use href="#m1" x="1353.4" y="360.3"/><use href="#m1" x="1360.6" y="358.1"/><use href="#m1" x="1368.3" y="354.2"/><use href="#m1" x="1387.7" y="351.9"/><use href="#m1" x="1401.9" y="348.1"/><use href="#m1" x="1415.5" y="344.8"/><use href="#m1" x="1427.8" y="341.6"/><use href="#m1" x="1433.7" y="339.0"/><use href="#m1" x="1443.5" y="337.2"/><use href="#m1" x="1448.2" y="333.5"/><use href="#m1" x="1455.3" y="329.6"/><use href="#m1" x="1462.8" y="326.7"/><use href="#m1" x="1465.1" y="323.8"/><use href="#m1" x="1474.8" y="320.6"/><use href="#m1" x="1482.5" y="317.7"/><use href="#m1" x="1487.4" y="314.4"/><use href="#m1" x="1493.1" y="311.1"/><use href="#m1" x="1499.1" y="308.6"/><use href="#m1" x="1505.6" y="304.6"/><use href="#m1" x="1512.1" y="302.4"/><use href="#m1" x="1518.0" y="298.6"/><use href="#m1" x="1521.0" y="295.9"/><use href="#m1" x="1526.3" y="291.9"/><use href="#m1" x="1532.5" y="289.7"/><use href="#m1" x="1538.0" y="286.9"/><use href="#m1" x="1541.7" y="283.2"/><use href="#m1" x="1549.2" y="281.0"/><use href="#m1" x="1555.9" y="277.5"/><use href="#m1" x="1558.4" y="273.7"/><use href="#m1" x="1562.4" y="271.1"/><use href="#m1" x="1567.0" y="268.5"/><use href="#m1" x="1570.4" y="265.7"/><use href="#m1" x="1575.7" y="262.9"/><use href="#m1" x="1578.6" y="260.1"/><use href="#m1" x="1580.7" y="257.4"/><use href="#m1" x="1585.4" y="254.6"/><use href="#m1" x="1587.8" y="251.6"/><use href="#m1" x="1591.8" y="248.7"/><use href="#m1" x="1595.4" y="245.9"/><use href="#m1" x="1599.8" y="243.1"/><use href="#m1" x="1604.1" y="239.9"/><use href="#m1" x="1607.1" y="236.8"/><use href="#m1" x="1612.4" y="233.9"/><use href="#m1" x="1615.9" y="230.6"/><use href="#m1" x="1618.7" y="227.3"/><use href="#m1" x="1622.8" y="223.7"/><use href="#m1" x="1626.2" y="221.5"/><use href="#m1" x="1629.1" y="217.6"/><use href="#m1" x="1632.3" y="215.0"/></g><g fill="#FF0000"><path d="M1381.4 1292.0 1369.3 1289.6 1357.2 1286.5 1347.2 1283.6 1339.1 1280.2 1331.7 1277.5 1325.0 1274.1 1318.3 1271.1 1315.6 1267.9 1312.3 1264.9 1309.7 1261.8 1306.8 1258.7 1302.8 1255.6 1299.9 1252.5 1298.7 1249.3 1294.7 1246.2 1292.1 1243.1 1291.0 1240.1 1287.4 1237.1 1285.7 1234.0 1282.5 1230.9 1280.3 1227.8 1276.9 1224.7 1275.5 1221.5 1273.6 1218.4 1270.5 1215.2 1268.6 1212.0 1266.3 1209.0 1263.0 1206.0 1262.2 1202.9 1259.8 1199.9 1257.1 1196.8 1254.5 1193.7 1254.1 1190.7 1251.2 1187.6 1249.7 1184.5 1248.0 1181.3 1245.7 1178.2 1244.1 1175.1 1241.0 1171.9 1239.9 1168.8 1237.2 1165.6 1236.3 1162.4 1234.2 1159.3 1230.7 1156.1 1228.9 1152.9 1227.1 1149.7 1226.7 1146.5 1223.9 1143.5 1222.5 1140.4 1220.1 1137.4 1218.8 1134.4 1216.8 1131.4 1215.0 1128.3 1213.7 1125.3 1212.0 1122.3 1210.9 1119.2 1208.7 1116.2 1207.5 1113.1 1205.7 1110.1 1204.2 1107.0 1201.9 1103.9 1199.1 1100.9 1198.8 1097.8 1197.3 1094.7 1195.5 1091.7 1193.1 1088.6 1191.7 1085.5 1189.0 1082.4 1188.5 1079.3 1186.2 1076.2 1183.9 1073.2 1181.8 1070.1 1181.6 1067.0 1180.2 1063.9 1176.7 1060.8 1176.3 1057.8 1173.8 1054.7 1171.6 1051.6 1170.1 1048.5 1169.3 1045.5 1167.7 1042.4 1164.3 1039.3 1163.7 1036.3 1160.8 1033.2 1160.3 1030.2 1157.8 1027.2 1157.1 1024.1 1155.4 1021.1 1152.7 1018.1 1151.8 1015.1 1148.6 1012.1 1146.2 1008.8 1145.2 1005.6 1142.1 1002.5 1140.4 999.3 1138.8 996.1 1137.2 993.0 1134.2 989.8 1131.9 986.7 1131.5 983.6 1128.3 980.5 1127.5 977.4 1125.2 974.3 1122.0 971.2 1120.0 968.2 1118.0 965.2 1116.0 962.1 1113.6 959.0 1111.1 955.8 1108.8 952.6 1107.0 949.5 1103.7 946.4 1101.1 943.3 1099.2 940.2 1095.7 937.2 1093.3 934.2 1091.9 931.0 1088.2 927.9 1085.5 924.7 1081.6 921.7 1079.6 918.6 1077.0 915.6 1072.8 912.4 1070.9 909.3 1067.7 906.2 1063.4 903.1 1061.3 900.1 1057.5 897.0 1054.4 893.9 1050.2 890.9 1047.1 887.7 1043.4 884.6 1038.0 881.6 1034.0 878.4 1031.0 875.4 1027.1 872.2 1021.1 869.2 1016.7 866.0 1012.0 863.0 1006.3 859.9 1000.8 856.8 995.1 853.8 989.2 850.8 983.1 847.7 975.6 844.6 968.4 841.6 960.0 839.0 953.5 835.6 938.8 832.9 926.7 829.6 910.5 827.6 901.9 825.2 895.1 822.8 874.9 821.5 861.9 819.1 848.7 816.8 828.5 814.4 811.0 812.0 776.7 811.7 705.5 808.6 731.7 804.7 821.1 801.9 858.1 799.2 880.9 795.8 890.6 792.8 903.1 789.8 914.5 786.8 925.9 783.7 934.0 780.7 942.5 777.6 950.8 774.6 958.5 771.6 964.3 768.5 971.1 765.5 977.3 762.5 984.1 759.5 988.8 756.5 995.0 753.3 998.8 750.2 1004.0 747.2 1009.2 744.2 1014.2 741.1 1017.6 738.0 1021.4 734.9 1025.1 731.9 1029.8 728.8 1032.7 725.8 1037.5 722.8 1041.1 719.6 1043.0 716.6 1046.4 713.6 1050.6 710.4 1053.4 707.3 1056.5 704.2 1058.4 701.1 1060.8 698.0 1063.6 695.0 1067.1 691.9 1068.5 688.8 1071.0 685.7 1073.5 682.5 1075.7 679.5 1077.7 676.5 1080.8 673.4 1081.2 670.3 1082.9 667.1 1086.7 663.9 1088.3 660.9 1090.2 657.9 1090.7 654.8 1093.4 651.8 1094.9 648.7 1095.1 645.5 1097.7 642.4 1099.4 639.3 1100.6 636.1 1101.8 632.9 1102.8 629.7 1104.3 626.5 1105.5 623.2 1106.5 620.2 1108.9 617.2 1109.6 614.2 1111.9 611.2 1111.7 608.2 1114.7 605.2 1115.6 602.1 1117.3 599.1 1118.5 596.1 1119.8 593.1 1120.5 590.1 1120.7 587.0 1123.4 584.0 1123.7 580.8 1125.4 577.6 1127.6 574.4 1128.8 571.2 1130.0 568.0 1132.6 564.8 1133.5 561.7 1134.5 558.6 1135.9 555.4 1138.7 552.4 1139.6 549.3 1141.9 546.2 1142.7 543.2 1144.3 540.0 1146.9 536.8 1149.4 533.7 1150.1 530.6 1153.4 527.5 1155.7 524.5 1157.6 521.5 1159.9 518.3 1160.6 515.1 1164.2 512.0 1167.1 508.9 1168.0 505.8 1170.9 502.8 1173.4 499.8 1176.7 496.6 1179.3 493.5 1182.2 490.4 1185.6 487.4 1187.0 484.3 1190.0 481.3 1193.3 478.2 1196.5 475.1 1199.6 472.0 1204.6 468.9 1207.7 465.9 1209.5 462.9 1213.8 459.7 1217.0 456.6 1220.6 453.5 1224.3 450.5 1228.5 447.5 1232.1 444.5 1235.5 441.3 1239.1 438.2 1243.3 435.1 1246.9 432.0 1251.7 429.0 1256.0 426.0 1259.4 423.0 1263.0 419.8 1267.4 416.7 1272.1 413.6 1276.8 410.5 1281.5 407.5 1284.9 404.4 1290.1 401.4 1294.0 398.4 1298.0 395.3 1302.2 392.3 1307.0 389.2 1311.9 386.1 1315.9 382.9 1321.0 379.8 1325.1 376.7 1329.2 373.6 1334.3 370.5 1339.2 367.4 1342.5 364.3 1347.8 361.2 1352.3 358.1 1357.8 355.0 1362.4 351.9 1365.8 348.8 1371.4 345.6 1375.7 342.5 1378.9 339.5 1383.6 336.5 1387.2 333.5 1392.9 330.4 1396.8 327.4 1401.5 324.3 1405.6 321.2 1409.5 318.1 1413.8 315.0 1417.7 311.9 1420.9 308.8 1425.8 305.7 1428.6 302.7 1432.8 299.6 1437.9 296.6 1442.9 292.1 1446.1 289.4 1450.2 286.7 1455.0 284.0" fill="none" stroke="#FF0000" stroke-width="7.4" stroke-linejoin="round" stroke-linecap="round"/><use href="#m2" x="1381.4" y="1292.0"/><use href="#m2" x="1369.3" y="1289.6"/><use href="#m2" x="1357.2" y="1286.5"/><use href="#m2" x="1347.2" y="1283.6"/><use href="#m2" x="1339.1" y="1280.2"/><use href="#m2" x="1331.7" y="1277.5"/><use href="#m2" x="1325.0" y="1274.1"/><use href="#m2" x="1318.3" y="1271.1"/><use href="#m2" x="1315.6" y="1267.9"/><use href="#m2" x="1312.3" y="1264.9"/><use href="#m2" x="1309.7" y="1261.8"/><use href="#m2" x="1306.8" y="1258.7"/><use href="#m2" x="1302.8" y="1255.6"/><use href="#m2" x="1299.9" y="1252.5"/><use href="#m2" x="1298.7" y="1249.3"/><use href="#m2" x="1294.7" y="1246.2"/><use href="#m2" x="1292.1" y="1243.1"/><use href="#m2" x="1291.0" y="1240.1"/><use href="#m2" x="1287.4" y="1237.1"/><use href="#m2" x="1285.7" y="1234.0"/><use href="#m2" x="1282.5" y="1230.9"/><use href="#m2" x="1280.3" y="1227.8"/><use href="#m2" x="1276.9" y="1224.7"/><use href="#m2" x="1275.5" y="1221.5"/><use href="#m2" x="1273.6" y="1218.4"/><use href="#m2" x="1270.5" y="1215.2"/><use href="#m2" x="1268.6" y="1212.0"/><use href="#m2" x="1266.3" y="1209.0"/><use href="#m2" x="1263.0" y="1206.0"/><use href="#m2" x="1262.2" y="1202.9"/><use href="#m2" x="1259.8" y="1199.9"/><use href="#m2" x="1257.1" y="1196.8"/><use href="#m2" x="1254.5" y="1193.7"/><use href="#m2" x="1254.1" y="1190.7"/><use href="#m2" x="1251.2" y="1187.6"/><use href="#m2" x="1249.7" y="1184.5"/><use href="#m2" x="1248.0" y="1181.3"/><use href="#m2" x="1245.7" y="1178.2"/><use href="#m2" x="1244.1" y="1175.1"/><use href="#m2" x="1241.0" y="1171.9"/><use href="#m2" x="1239.9" y="1168.8"/><use href="#m2" x="1237.2" y="1165.6"/><use href="#m2" x="1236.3" y="1162.4"/><use href="#m2" x="1234.2" y="1159.3"/><use href="#m2" x="1230.7" y="1156.1"/><use href="#m2" x="1228.9" y="1152.9"/><use href="#m2" x="1227.1" y="1149.7"/><use href="#m2" x="1226.7" y="1146.5"/><use href="#m2" x="1223.9" y="1143.5"/><use href="#m2" x="1222.5" y="1140.4"/><use href="#m2" x="1220.1" y="1137.4"/><use href="#m2" x="1218.8" y="1134.4"/><use href="#m2" x="1216.8" y="1131.4"/><use href="#m2" x="1215.0" y="1128.3"/><use href="#m2" x="1213.7" y="1125.3"/><use href="#m2" x="1212.0" y="1122.3"/><use href="#m2" x="1210.9" y="1119.2"/><use href="#m2" x="1208.7" y="1116.2"/><use href="#m2" x="1207.5" y="1113.1"/><use href="#m2" x="1205.7" y="1110.1"/><use href="#m2" x="1204.2" y="1107.0"/><use href="#m2" x="1201.9" y="1103.9"/><use href="#m2" x="1199.1" y="1100.9"/><use href="#m2" x="1198.8" y="1097.8"/><use href="#m2" x="1197.3" y="1094.7"/><use href="#m2" x="1195.5" y="1091.7"/><use href="#m2" x="1193.1" y="1088.6"/><use href="#m2" x="1191.7" y="1085.5"/><use href="#m2" x="1189.0" y="1082.4"/><use href="#m2" x="1188.5" y="1079.3"/><use href="#m2" x="1186.2" y="1076.2"/><use href="#m2" x="1183.9" y="1073.2"/><use href="#m2" x="1181.8" y="1070.1"/><use href="#m2" x="1181.6" y="1067.0"/><use href="#m2" x="1180.2" y="1063.9"/><use href="#m2" x="1176.7" y="1060.8"/><use href="#m2" x="1176.3" y="1057.8"/><use href="#m2" x="1173.8" y="1054.7"/><use href="#m2" x="1171.6" y="1051.6"/><use href="#m2" x="1170.1" y="1048.5"/><use href="#m2" x="1169.3" y="1045.5"/><use href="#m2" x="1167.7" y="1042.4"/><use href="#m2" x="1164.3" y="1039.3"/><use href="#m2" x="1163.7" y="1036.3"/><use href="#m2" x="1160.8" y="1033.2"/><use href="#m2" x="1160.3" y="1030.2"/><use href="#m2" x="1157.8" y="1027.2"/><use href="#m2" x="1157.1" y="1024.1"/><use href="#m2" x="1155.4" y="1021.1"/><use href="#m2" x="1152.7" y="1018.1"/><use href="#m2" x="1151.8" y="1015.1"/><use href="#m2" x="1148.6" y="1012.1"/><use href="#m2" x="1146.2" y="1008.8"/><use href="#m2" x="1145.2" y="1005.6"/><use href="#m2" x="1142.1" y="1002.5"/><use href="#m2" x="1140.4" y="999.3"/><use href="#m2" x="1138.8" y="996.1"/><use href="#m2" x="1137.2" y="993.0"/><use href="#m2" x="1134.2" y="989.8"/><use href="#m2" x="1131.9" y="986.7"/><use href="#m2" x="1131.5" y="983.6"/><use href="#m2" x="1128.3" y="980.5"/><use href="#m2" x="1127.5" y="977.4"/><use href="#m2" x="1125.2" y="974.3"/><use href="#m2" x="1122.0" y="971.2"/><use href="#m2" x="1120.0" y="968.2"/><use href="#m2" x="1118.0" y="965.2"/><use href="#m2" x="1116.0" y="962.1"/><use href="#m2" x="1113.6" y="959.0"/><use href="#m2" x="1111.1" y="955.8"/><use href="#m2" x="1108.8" y="952.6"/><use href="#m2" x="1107.0" y="949.5"/><use href="#m2" x="1103.7" y="946.4"/><use href="#m2" x="1101.1" y="943.3"/><use href="#m2" x="1099.2" y="940.2"/><use href="#m2" x="1095.7" y="937.2"/><use href="#m2" x="1093.3" y="934.2"/><use href="#m2" x="1091.9" y="931.0"/><use href="#m2" x="1088.2" y="927.9"/><use href="#m2" x="1085.5" y="924.7"/><use href="#m2" x="1081.6" y="921.7"/><use href="#m2" x="1079.6" y="918.6"/><use href="#m2" x="1077.0" y="915.6"/><use href="#m2" x="1072.8" y="912.4"/><use href="#m2" x="1070.9" y="909.3"/><use href="#m2" x="1067.7" y="906.2"/><use href="#m2" x="1063.4" y="903.1"/><use href="#m2" x="1061.3" y="900.1"/><use href="#m2" x="1057.5" y="897.0"/><use href="#m2" x="1054.4" y="893.9"/><use href="#m2" x="1050.2" y="890.9"/><use href="#m2" x="1047.1" y="887.7"/><use href="#m2" x="1043.4" y="884.6"/><use href="#m2" x="1038.0" y="881.6"/><use href="#m2" x="1034.0" y="878.4"/><use href="#m2" x="1031.0" y="875.4"/><use href="#m2" x="1027.1" y="872.2"/><use href="#m2" x="1021.1" y="869.2"/><use href="#m2" x="1016.7" y="866.0"/><use href="#m2" x="1012.0" y="863.0"/><use href="#m2" x="1006.3" y="859.9"/><use href="#m2" x="1000.8" y="856.8"/><use href="#m2" x="995.1" y="853.8"/><use href="#m2" x="989.2" y="850.8"/><use href="#m2" x="983.1" y="847.7"/><use href="#m2" x="975.6" y="844.6"/><use href="#m2" x="968.4" y="841.6"/><use href="#m2" x="960.0" y="839.0"/><use href="#m2" x="953.5" y="835.6"/><use href="#m2" x="938.8" y="832.9"/><use href="#m2" x="926.7" y="829.6"/><use href="#m2" x="910.5" y="827.6"/><use href="#m2" x="901.9" y="825.2"/><use href="#m2" x="895.1" y="822.8"/><use href="#m2" x="874.9" y="821.5"/><use href="#m2" x="861.9" y="819.1"/><use href="#m2" x="848.7" y="816.8"/><use href="#m2" x="828.5" y="814.4"/><use href="#m2" x="811.0" y="812.0"/><use href="#m2" x="776.7" y="811.7"/><use href="#m2" x="705.5" y="808.6"/><use href="#m2" x="731.7" y="804.7"/><use href="#m2" x="821.1" y="801.9"/><use href="#m2" x="858.1" y="799.2"/><use href="#m2" x="880.9" y="795.8"/><use href="#m2" x="890.6" y="792.8"/><use href="#m2" x="903.1" y="789.8"/><use href="#m2" x="914.5" y="786.8"/><use href="#m2" x="925.9" y="783.7"/><use href="#m2" x="934.0" y="780.7"/><use href="#m2" x="942.5" y="777.6"/><use href="#m2" x="950.8" y="774.6"/><use href="#m2" x="958.5" y="771.6"/><use href="#m2" x="964.3" y="768.5"/><use href="#m2" x="971.1" y="765.5"/><use href="#m2" x="977.3" y="762.5"/><use href="#m2" x="984.1" y="759.5"/><use href="#m2" x="988.8" y="756.5"/><use href="#m2" x="995.0" y="753.3"/><use href="#m2" x="998.8" y="750.2"/><use href="#m2" x="1004.0" y="747.2"/><use href="#m2" x="1009.2" y="744.2"/><use href="#m2" x="1014.2" y="741.1"/><use href="#m2" x="1017.6" y="738.0"/><use href="#m2" x="1021.4" y="734.9"/><use href="#m2" x="1025.1" y="731.9"/><use href="#m2" x="1029.8" y="728.8"/><use href="#m2" x="1032.7" y="725.8"/><use href="#m2" x="1037.5" y="722.8"/><use href="#m2" x="1041.1" y="719.6"/><use href="#m2" x="1043.0" y="716.6"/><use href="#m2" x="1046.4" y="713.6"/><use href="#m2" x="1050.6" y="710.4"/><use href="#m2" x="1053.4" y="707.3"/><use href="#m2" x="1056.5" y="704.2"/><use href="#m2" x="1058.4" y="701.1"/><use href="#m2" x="1060.8" y="698.0"/><use href="#m2" x="1063.6" y="695.0"/><use href="#m2" x="1067.1" y="691.9"/><use href="#m2" x="1068.5" y="688.8"/><use href="#m2" x="1071.0" y="685.7"/><use href="#m2" x="1073.5" y="682.5"/><use href="#m2" x="1075.7" y="679.5"/><use href="#m2" x="1077.7" y="676.5"/><use href="#m2" x="1080.8" y="673.4"/><use href="#m2" x="1081.2" y="670.3"/><use href="#m2" x="1082.9" y="667.1"/><use href="#m2" x="1086.7" y="663.9"/><use href="#m2" x="1088.3" y="660.9"/><use href="#m2" x="1090.2" y="657.9"/><use href="#m2" x="1090.7" y="654.8"/><use href="#m2" x="1093.4" y="651.8"/><use href="#m2" x="1094.9" y="648.7"/><use href="#m2" x="1095.1" y="645.5"/><use href="#m2" x="1097.7" y="642.4"/><use href="#m2" x="1099.4" y="639.3"/><use href="#m2" x="1100.6" y="636.1"/><use href="#m2" x="1101.8" y="632.9"/><use href="#m2" x="1102.8" y="629.7"/><use href="#m2" x="1104.3" y="626.5"/><use href="#m2" x="1105.5" y="623.2"/><use href="#m2" x="1106.5" y="620.2"/><use href="#m2" x="1108.9" y="617.2"/><use href="#m2" x="1109.6" y="614.2"/><use href="#m2" x="1111.9" y="611.2"/><use href="#m2" x="1111.7" y="608.2"/><use href="#m2" x="1114.7" y="605.2"/><use href="#m2" x="1115.6" y="602.1"/><use href="#m2" x="1117.3" y="599.1"/><use href="#m2" x="1118.5" y="596.1"/><use href="#m2" x="1119.8" y="593.1"/><use href="#m2" x="1120.5" y="590.1"/><use href="#m2" x="1120.7" y="587.0"/><use href="#m2" x="1123.4" y="584.0"/><use href="#m2" x="1123.7" y="580.8"/><use href="#m2" x="1125.4" y="577.6"/><use href="#m2" x="1127.6" y="574.4"/><use href="#m2" x="1128.8" y="571.2"/><use href="#m2" x="1130.0" y="568.0"/><use href="#m2" x="1132.6" y="564.8"/><use href="#m2" x="1133.5" y="561.7"/><use href="#m2" x="1134.5" y="558.6"/><use href="#m2" x="1135.9" y="555.4"/><use href="#m2" x="1138.7" y="552.4"/><use href="#m2" x="1139.6" y="549.3"/><use href="#m2" x="1141.9" y="546.2"/><use href="#m2" x="1142.7" y="543.2"/><use href="#m2" x="1144.3" y="540.0"/><use href="#m2" x="1146.9" y="536.8"/><use href="#m2" x="1149.4" y="533.7"/><use href="#m2" x="1150.1" y="530.6"/><use href="#m2" x="1153.4" y="527.5"/><use href="#m2" x="1155.7" y="524.5"/><use href="#m2" x="1157.6" y="521.5"/><use href="#m2" x="1159.9" y="518.3"/><use href="#m2" x="1160.6" y="515.1"/><use href="#m2" x="1164.2" y="512.0"/><use href="#m2" x="1167.1" y="508.9"/><use href="#m2" x="1168.0" y="505.8"/><use href="#m2" x="1170.9" y="502.8"/><use href="#m2" x="1173.4" y="499.8"/><use href="#m2" x="1176.7" y="496.6"/><use href="#m2" x="1179.3" y="493.5"/><use href="#m2" x="1182.2" y="490.4"/><use href="#m2" x="1185.6" y="487.4"/><use href="#m2" x="1187.0" y="484.3"/><use href="#m2" x="1190.0" y="481.3"/><use href="#m2" x="1193.3" y="478.2"/><use href="#m2" x="1196.5" y="475.1"/><use href="#m2" x="1199.6" y="472.0"/><use href="#m2" x="1204.6" y="468.9"/><use href="#m2" x="1207.7" y="465.9"/><use href="#m2" x="1209.5" y="462.9"/><use href="#m2" x="1213.8" y="459.7"/><use href="#m2" x="1217.0" y="456.6"/><use href="#m2" x="1220.6" y="453.5"/><use href="#m2" x="1224.3" y="450.5"/><use href="#m2" x="1228.5" y="447.5"/><use href="#m2" x="1232.1" y="444.5"/><use href="#m2" x="1235.5" y="441.3"/><use href="#m2" x="1239.1" y="438.2"/><use href="#m2" x="1243.3" y="435.1"/><use href="#m2" x="1246.9" y="432.0"/><use href="#m2" x="1251.7" y="429.0"/><use href="#m2" x="1256.0" y="426.0"/><use href="#m2" x="1259.4" y="423.0"/><use href="#m2" x="1263.0" y="419.8"/><use href="#m2" x="1267.4" y="416.7"/><use href="#m2" x="1272.1" y="413.6"/><use href="#m2" x="1276.8" y="410.5"/><use href="#m2" x="1281.5" y="407.5"/><use href="#m2" x="1284.9" y="404.4"/><use href="#m2" x="1290.1" y="401.4"/><use href="#m2" x="1294.0" y="398.4"/><use href="#m2" x="1298.0" y="395.3"/><use href="#m2" x="1302.2" y="392.3"/><use href="#m2" x="1307.0" y="389.2"/><use href="#m2" x="1311.9" y="386.1"/><use href="#m2" x="1315.9" y="382.9"/><use href="#m2" x="1321.0" y="379.8"/><use href="#m2" x="1325.1" y="376.7"/><use href="#m2" x="1329.2" y="373.6"/><use href="#m2" x="1334.3" y="370.5"/><use href="#m2" x="1339.2" y="367.4"/><use href="#m2" x="1342.5" y="364.3"/><use href="#m2" x="1347.8" y="361.2"/><use href="#m2" x="1352.3" y="358.1"/><use href="#m2" x="1357.8" y="355.0"/><use href="#m2" x="1362.4" y="351.9"/><use href="#m2" x="1365.8" y="348.8"/><use href="#m2" x="1371.4" y="345.6"/><use href="#m2" x="1375.7" y="342.5"/><use href="#m2" x="1378.9" y="339.5"/><use href="#m2" x="1383.6" y="336.5"/><use href="#m2" x="1387.2" y="333.5"/><use href="#m2" x="1392.9" y="330.4"/><use href="#m2" x="1396.8" y="327.4"/><use href="#m2" x="1401.5" y="324.3"/><use href="#m2" x="1405.6" y="321.2"/><use href="#m2" x="1409.5" y="318.1"/><use href="#m2" x="1413.8" y="315.0"/><use href="#m2" x="1417.7" y="311.9"/><use href="#m2" x="1420.9" y="308.8"/><use href="#m2" x="1425.8" y="305.7"/><use href="#m2" x="1428.6" y="302.7"/><use href="#m2" x="1432.8" y="299.6"/><use href="#m2" x="1437.9" y="296.6"/><use href="#m2" x="1442.9" y="292.1"/><use href="#m2" x="1446.1" y="289.4"/><use href="#m2" x="1450.2" y="286.7"/><use href="#m2" x="1455.0" y="284.0"/></g><g fill="#008000"><path d="M1192.3 1287.0 1169.0 1284.6 1165.9 1281.7 1163.0 1278.9 1161.0 1276.0 1157.9 1273.1 1155.1 1270.2 1153.2 1267.4 1150.8 1264.5 1148.6 1261.3 1146.2 1258.2 1144.1 1255.1 1140.9 1252.0 1139.6 1248.8 1137.1 1245.6 1134.9 1242.4 1133.0 1239.4 1131.5 1236.4 1131.2 1233.4 1129.3 1230.3 1127.6 1227.3 1126.0 1224.2 1123.1 1221.1 1121.8 1218.0 1120.8 1214.9 1119.5 1211.8 1118.2 1208.6 1116.7 1205.5 1113.6 1202.4 1113.1 1199.2 1111.7 1196.0 1109.9 1192.9 1107.8 1189.7 1106.9 1186.6 1104.6 1183.4 1104.8 1180.2 1103.2 1177.1 1101.1 1173.9 1099.1 1170.7 1098.8 1167.5 1096.7 1164.4 1095.8 1161.2 1094.2 1158.1 1092.0 1154.9 1090.3 1151.8 1089.1 1148.6 1087.2 1145.5 1085.1 1142.4 1083.8 1139.3 1083.2 1136.1 1080.1 1133.0 1078.5 1129.9 1078.0 1126.8 1075.7 1123.7 1074.5 1120.7 1072.7 1117.6 1070.8 1114.5 1070.4 1111.4 1067.1 1108.4 1065.9 1105.3 1063.7 1102.2 1062.9 1099.2 1060.5 1096.1 1058.9 1093.1 1058.0 1090.0 1055.4 1087.0 1054.1 1083.9 1053.1 1080.9 1049.7 1077.8 1047.9 1074.8 1046.5 1071.8 1045.8 1068.7 1043.7 1065.7 1041.2 1062.7 1039.6 1059.6 1037.6 1056.6 1036.4 1053.6 1033.8 1050.5 1033.3 1047.5 1031.9 1044.5 1030.3 1041.5 1028.0 1038.5 1026.7 1035.5 1022.9 1032.3 1021.4 1029.1 1020.8 1025.9 1018.5 1022.7 1015.8 1019.5 1014.8 1016.4 1012.2 1013.2 1010.5 1010.1 1007.4 1007.0 1005.1 1003.9 1003.5 1000.9 1000.8 997.8 999.1 994.8 998.1 991.8 994.5 988.6 991.4 985.4 989.1 982.3 986.9 979.2 985.6 976.2 982.2 973.1 979.3 970.0 976.2 966.8 975.1 963.7 971.1 960.7 967.7 957.7 964.3 954.5 961.0 951.4 958.0 948.4 955.4 945.3 950.8 942.2 946.9 939.1 943.9 936.0 939.5 932.9 936.7 929.8 930.7 926.7 927.2 923.7 923.0 920.7 917.4 917.5 913.6 914.5 907.4 911.4 901.4 908.3 895.9 905.2 889.1 902.1 883.5 899.0 879.1 896.7 872.6 893.5 866.2 890.9 857.8 887.0 849.3 884.4 840.3 880.6 829.9 877.3 817.6 874.7 804.0 871.5 788.7 867.6 770.3 864.5 747.2 863.5 736.2 860.9 726.9 858.2 715.6 855.6 663.2 854.9 546.2 851.1 592.6 850.3 678.7 847.1 721.7 844.0 750.6 840.9 771.2 838.6 780.7 835.8 788.8 832.9 795.0 829.8 801.6 826.7 809.9 823.7 818.1 820.7 826.6 817.6 835.2 814.6 844.8 811.6 851.4 808.5 859.0 805.5 867.9 802.5 874.1 799.4 881.3 796.3 885.9 793.3 892.3 790.2 896.7 787.2 901.5 784.2 905.7 781.2 909.4 778.0 912.5 775.0 916.4 771.9 921.3 768.8 924.6 765.8 927.9 762.7 929.8 759.6 933.3 756.5 936.5 753.5 938.9 750.3 941.8 747.3 943.7 744.3 946.3 741.2 948.8 738.0 950.3 734.8 953.7 731.8 955.8 728.8 956.1 725.7 959.9 722.6 961.8 719.4 963.1 716.3 963.7 713.1 967.1 710.0 967.3 707.0 970.6 703.9 971.6 700.8 972.0 697.7 973.7 694.6 976.2 691.4 977.5 688.3 979.3 685.1 981.1 681.9 981.1 678.7 982.0 675.7 985.1 672.6 984.5 669.6 987.5 666.5 987.2 663.5 989.7 660.4 990.9 657.3 992.2 654.2 992.7 651.2 994.5 648.0 994.2 644.9 996.3 641.8 996.7 638.7 998.8 635.5 999.7 632.4 1000.1 629.3 1001.2 626.1 1001.3 623.0 1002.3 619.8 1004.4 616.6 1005.2 613.5 1006.9 610.3 1007.4 607.2 1007.4 604.0 1008.9 600.8 1010.6 597.7 1011.1 594.5 1011.0 591.4 1013.6 588.2 1014.6 585.1 1014.0 581.9 1015.9 578.8 1016.6 575.7 1018.3 572.5 1018.3 569.4 1019.2 566.3 1020.7 563.2 1022.6 560.1 1021.9 557.0 1022.9 553.9 1025.0 550.8 1026.5 547.8 1026.8 544.7 1027.7 541.6 1029.7 538.6 1030.6 535.6 1030.3 532.6 1033.2 529.3 1033.0 526.1 1034.5 522.9 1036.9 519.7 1037.4 516.6 1039.5 513.4 1039.7 510.3 1042.5 507.2 1042.6 504.1 1044.0 501.0 1046.3 498.0 1047.5 494.9 1049.5 491.9 1052.0 488.7 1053.5 485.6 1054.0 482.4 1056.5 479.3 1058.9 476.2 1060.9 473.2 1063.4 470.2 1065.2 467.0 1066.7 463.9 1069.5 460.8 1073.1 457.7 1074.8 454.6 1078.4 451.4 1081.6 448.3 1083.8 445.3 1086.8 442.3 1089.8 439.1 1092.4 436.0 1096.8 433.0 1099.2 429.9 1103.4 426.9 1105.7 423.8 1110.4 420.7 1113.8 417.6 1117.1 414.5 1120.4 411.5 1123.5 408.5 1128.6 405.3 1131.7 402.2 1136.3 399.1 1139.2 396.0 1143.0 392.8 1147.1 389.7 1152.4 386.6 1155.0 383.5 1160.4 380.4 1163.3 377.2 1167.4 374.2 1170.6 371.2 1174.8 368.2 1177.4 365.1 1181.7 362.1 1186.4 359.0 1188.6 356.0 1193.2 353.0 1196.4 349.9 1200.2 346.7 1203.5 343.7 1207.5 340.7 1213.5 337.5 1217.5 334.5 1221.9 331.4 1226.4 328.4 1231.5 325.4 1240.3 321.0 1270.5 318.0 1292.7 314.0 1323.1 312.5 1353.5 309.4 1380.7 306.4 1388.2 303.9 1395.4 301.3 1411.3 297.2 1425.6 293.1 1432.7 289.6 1439.9 286.0 1452.1 282.9 1468.5 279.0" fill="none" stroke="#008000" stroke-width="7.4" stroke-linejoin="round" stroke-linecap="round"/><use href="#m3" x="1192.3" y="1287.0"/><use href="#m3" x="1169.0" y="1284.6"/><use href="#m3" x="1165.9" y="1281.7"/><use href="#m3" x="1163.0" y="1278.9"/><use href="#m3" x="1161.0" y="1276.0"/><use href="#m3" x="1157.9" y="1273.1"/><use href="#m3" x="1155.1" y="1270.2"/><use href="#m3" x="1153.2" y="1267.4"/><use href="#m3" x="1150.8" y="1264.5"/><use href="#m3" x="1148.6" y="1261.3"/><use href="#m3" x="1146.2" y="1258.2"/><use href="#m3" x="1144.1" y="1255.1"/><use href="#m3" x="1140.9" y="1252.0"/><use href="#m3" x="1139.6" y="1248.8"/><use href="#m3" x="1137.1" y="1245.6"/><use href="#m3" x="1134.9" y="1242.4"/><use href="#m3" x="1133.0" y="1239.4"/><use href="#m3" x="1131.5" y="1236.4"/><use href="#m3" x="1131.2" y="1233.4"/><use href="#m3" x="1129.3" y="1230.3"/><use href="#m3" x="1127.6" y="1227.3"/><use href="#m3" x="1126.0" y="1224.2"/><use href="#m3" x="1123.1" y="1221.1"/><use href="#m3" x="1121.8" y="1218.0"/><use href="#m3" x="1120.8" y="1214.9"/><use href="#m3" x="1119.5" y="1211.8"/><use href="#m3" x="1118.2" y="1208.6"/><use href="#m3" x="1116.7" y="1205.5"/><use href="#m3" x="1113.6" y="1202.4"/><use href="#m3" x="1113.1" y="1199.2"/><use href="#m3" x="1111.7" y="1196.0"/><use href="#m3" x="1109.9" y="1192.9"/><use href="#m3" x="1107.8" y="1189.7"/><use href="#m3" x="1106.9" y="1186.6"/><use href="#m3" x="1104.6" y="1183.4"/><use href="#m3" x="1104.8" y="1180.2"/><use href="#m3" x="1103.2" y="1177.1"/><use href="#m3" x="1101.1" y="1173.9"/><use href="#m3" x="1099.1" y="1170.7"/><use href="#m3" x="1098.8" y="1167.5"/><use href="#m3" x="1096.7" y="1164.4"/><use href="#m3" x="1095.8" y="1161.2"/><use href="#m3" x="1094.2" y="1158.1"/><use href="#m3" x="1092.0" y="1154.9"/><use href="#m3" x="1090.3" y="1151.8"/><use href="#m3" x="1089.1" y="1148.6"/><use href="#m3" x="1087.2" y="1145.5"/><use href="#m3" x="1085.1" y="1142.4"/><use href="#m3" x="1083.8" y="1139.3"/><use href="#m3" x="1083.2" y="1136.1"/><use href="#m3" x="1080.1" y="1133.0"/><use href="#m3" x="1078.5" y="1129.9"/><use href="#m3" x="1078.0" y="1126.8"/><use href="#m3" x="1075.7" y="1123.7"/><use href="#m3" x="1074.5" y="1120.7"/><use href="#m3" x="1072.7" y="1117.6"/><use href="#m3" x="1070.8" y="1114.5"/><use href="#m3" x="1070.4" y="1111.4"/><use href="#m3" x="1067.1" y="1108.4"/><use href="#m3" x="1065.9" y="1105.3"/><use href="#m3" x="1063.7" y="1102.2"/><use href="#m3" x="1062.9" y="1099.2"/><use href="#m3" x="1060.5" y="1096.1"/><use href="#m3" x="1058.9" y="1093.1"/><use href="#m3" x="1058.0" y="1090.0"/><use href="#m3" x="1055.4" y="1087.0"/><use href="#m3" x="1054.1" y="1083.9"/><use href="#m3" x="1053.1" y="1080.9"/><use href="#m3" x="1049.7" y="1077.8"/><use href="#m3" x="1047.9" y="1074.8"/><use href="#m3" x="1046.5" y="1071.8"/><use href="#m3" x="1045.8" y="1068.7"/><use href="#m3" x="1043.7" y="1065.7"/><use href="#m3" x="1041.2" y="1062.7"/><use href="#m3" x="1039.6" y="1059.6"/><use href="#m3" x="1037.6" y="1056.6"/><use href="#m3" x="1036.4" y="1053.6"/><use href="#m3" x="1033.8" y="1050.5"/><use href="#m3" x="1033.3" y="1047.5"/><use href="#m3" x="1031.9" y="1044.5"/><use href="#m3" x="1030.3" y="1041.5"/><use href="#m3" x="1028.0" y="1038.5"/><use href="#m3" x="1026.7" y="1035.5"/><use href="#m3" x="1022.9" y="1032.3"/><use href="#m3" x="1021.4" y="1029.1"/><use href="#m3" x="1020.8" y="1025.9"/><use href="#m3" x="1018.5" y="1022.7"/><use href="#m3" x="1015.8" y="1019.5"/><use href="#m3" x="1014.8" y="1016.4"/><use href="#m3" x="1012.2" y="1013.2"/><use href="#m3" x="1010.5" y="1010.1"/><use href="#m3" x="1007.4" y="1007.0"/><use href="#m3" x="1005.1" y="1003.9"/><use href="#m3" x="1003.5" y="1000.9"/><use href="#m3" x="1000.8" y="997.8"/><use href="#m3" x="999.1" y="994.8"/><use href="#m3" x="998.1" y="991.8"/><use href="#m3" x="994.5" y="988.6"/><use href="#m3" x="991.4" y="985.4"/><use href="#m3" x="989.1" y="982.3"/><use href="#m3" x="986.9" y="979.2"/><use href="#m3" x="985.6" y="976.2"/><use href="#m3" x="982.2" y="973.1"/><use href="#m3" x="979.3" y="970.0"/><use href="#m3" x="976.2" y="966.8"/><use href="#m3" x="975.1" y="963.7"/><use href="#m3" x="971.1" y="960.7"/><use href="#m3" x="967.7" y="957.7"/><use href="#m3" x="964.3" y="954.5"/><use href="#m3" x="961.0" y="951.4"/><use href="#m3" x="958.0" y="948.4"/><use href="#m3" x="955.4" y="945.3"/><use href="#m3" x="950.8" y="942.2"/><use href="#m3" x="946.9" y="939.1"/><use href="#m3" x="943.9" y="936.0"/><use href="#m3" x="939.5" y="932.9"/><use href="#m3" x="936.7" y="929.8"/><use href="#m3" x="930.7" y="926.7"/><use href="#m3" x="927.2" y="923.7"/><use href="#m3" x="923.0" y="920.7"/><use href="#m3" x="917.4" y="917.5"/><use href="#m3" x="913.6" y="914.5"/><use href="#m3" x="907.4" y="911.4"/><use href="#m3" x="901.4" y="908.3"/><use href="#m3" x="895.9" y="905.2"/><use href="#m3" x="889.1" y="902.1"/><use href="#m3" x="883.5" y="899.0"/><use href="#m3" x="879.1" y="896.7"/><use href="#m3" x="872.6" y="893.5"/><use href="#m3" x="866.2" y="890.9"/><use href="#m3" x="857.8" y="887.0"/><use href="#m3" x="849.3" y="884.4"/><use href="#m3" x="840.3" y="880.6"/><use href="#m3" x="829.9" y="877.3"/><use href="#m3" x="817.6" y="874.7"/><use href="#m3" x="804.0" y="871.5"/><use href="#m3" x="788.7" y="867.6"/><use href="#m3" x="770.3" y="864.5"/><use href="#m3" x="747.2" y="863.5"/><use href="#m3" x="736.2" y="860.9"/><use href="#m3" x="726.9" y="858.2"/><use href="#m3" x="715.6" y="855.6"/><use href="#m3" x="663.2" y="854.9"/><use href="#m3" x="546.2" y="851.1"/><use href="#m3" x="592.6" y="850.3"/><use href="#m3" x="678.7" y="847.1"/><use href="#m3" x="721.7" y="844.0"/><use href="#m3" x="750.6" y="840.9"/><use href="#m3" x="771.2" y="838.6"/><use href="#m3" x="780.7" y="835.8"/><use href="#m3" x="788.8" y="832.9"/><use href="#m3" x="795.0" y="829.8"/><use href="#m3" x="801.6" y="826.7"/><use href="#m3" x="809.9" y="823.7"/><use href="#m3" x="818.1" y="820.7"/><use href="#m3" x="826.6" y="817.6"/><use href="#m3" x="835.2" y="814.6"/><use href="#m3" x="844.8" y="811.6"/><use href="#m3" x="851.4" y="808.5"/><use href="#m3" x="859.0" y="805.5"/><use href="#m3" x="867.9" y="802.5"/><use href="#m3" x="874.1" y="799.4"/><use href="#m3" x="881.3" y="796.3"/><use href="#m3" x="885.9" y="793.3"/><use href="#m3" x="892.3" y="790.2"/><use href="#m3" x="896.7" y="787.2"/><use href="#m3" x="901.5" y="784.2"/><use href="#m3" x="905.7" y="781.2"/><use href="#m3" x="909.4" y="778.0"/><use href="#m3" x="912.5" y="775.0"/><use href="#m3" x="916.4" y="771.9"/><use href="#m3" x="921.3" y="768.8"/><use href="#m3" x="924.6" y="765.8"/><use href="#m3" x="927.9" y="762.7"/><use href="#m3" x="929.8" y="759.6"/><use href="#m3" x="933.3" y="756.5"/><use href="#m3" x="936.5" y="753.5"/><use href="#m3" x="938.9" y="750.3"/><use href="#m3" x="941.8" y="747.3"/><use href="#m3" x="943.7" y="744.3"/><use href="#m3" x="946.3" y="741.2"/><use href="#m3" x="948.8" y="738.0"/><use href="#m3" x="950.3" y="734.8"/><use href="#m3" x="953.7" y="731.8"/><use href="#m3" x="955.8" y="728.8"/><use href="#m3" x="956.1" y="725.7"/><use href="#m3" x="959.9" y="722.6"/><use href="#m3" x="961.8" y="719.4"/><use href="#m3" x="963.1" y="716.3"/><use href="#m3" x="963.7" y="713.1"/><use href="#m3" x="967.1" y="710.0"/><use href="#m3" x="967.3" y="707.0"/><use href="#m3" x="970.6" y="703.9"/><use href="#m3" x="971.6" y="700.8"/><use href="#m3" x="972.0" y="697.7"/><use href="#m3" x="973.7" y="694.6"/><use href="#m3" x="976.2" y="691.4"/><use href="#m3" x="977.5" y="688.3"/><use href="#m3" x="979.3" y="685.1"/><use href="#m3" x="981.1" y="681.9"/><use href="#m3" x="981.1" y="678.7"/><use href="#m3" x="982.0" y="675.7"/><use href="#m3" x="985.1" y="672.6"/><use href="#m3" x="984.5" y="669.6"/><use href="#m3" x="987.5" y="666.5"/><use href="#m3" x="987.2" y="663.5"/><use href="#m3" x="989.7" y="660.4"/><use href="#m3" x="990.9" y="657.3"/><use href="#m3" x="992.2" y="654.2"/><use href="#m3" x="992.7" y="651.2"/><use href="#m3" x="994.5" y="648.0"/><use href="#m3" x="994.2" y="644.9"/><use href="#m3" x="996.3" y="641.8"/><use href="#m3" x="996.7" y="638.7"/><use href="#m3" x="998.8" y="635.5"/><use href="#m3" x="999.7" y="632.4"/><use href="#m3" x="1000.1" y="629.3"/><use href="#m3" x="1001.2" y="626.1"/><use href="#m3" x="1001.3" y="623.0"/><use href="#m3" x="1002.3" y="619.8"/><use href="#m3" x="1004.4" y="616.6"/><use href="#m3" x="1005.2" y="613.5"/><use href="#m3" x="1006.9" y="610.3"/><use href="#m3" x="1007.4" y="607.2"/><use href="#m3" x="1007.4" y="604.0"/><use href="#m3" x="1008.9" y="600.8"/><use href="#m3" x="1010.6" y="597.7"/><use href="#m3" x="1011.1" y="594.5"/><use href="#m3" x="1011.0" y="591.4"/><use href="#m3" x="1013.6" y="588.2"/><use href="#m3" x="1014.6" y="585.1"/><use href="#m3" x="1014.0" y="581.9"/><use href="#m3" x="1015.9" y="578.8"/><use href="#m3" x="1016.6" y="575.7"/><use href="#m3" x="1018.3" y="572.5"/><use href="#m3" x="1018.3" y="569.4"/><use href="#m3" x="1019.2" y="566.3"/><use href="#m3" x="1020.7" y="563.2"/><use href="#m3" x="1022.6" y="560.1"/><use href="#m3" x="1021.9" y="557.0"/><use href="#m3" x="1022.9" y="553.9"/><use href="#m3" x="1025.0" y="550.8"/><use href="#m3" x="1026.5" y="547.8"/><use href="#m3" x="1026.8" y="544.7"/><use href="#m3" x="1027.7" y="541.6"/><use href="#m3" x="1029.7" y="538.6"/><use href="#m3" x="1030.6" y="535.6"/><use href="#m3" x="1030.3" y="532.6"/><use href="#m3" x="1033.2" y="529.3"/><use href="#m3" x="1033.0" y="526.1"/><use href="#m3" x="1034.5" y="522.9"/><use href="#m3" x="1036.9" y="519.7"/><use href="#m3" x="1037.4" y="516.6"/><use href="#m3" x="1039.5" y="513.4"/><use href="#m3" x="1039.7" y="510.3"/><use href="#m3" x="1042.5" y="507.2"/><use href="#m3" x="1042.6" y="504.1"/><use href="#m3" x="1044.0" y="501.0"/><use href="#m3" x="1046.3" y="498.0"/><use href="#m3" x="1047.5" y="494.9"/><use href="#m3" x="1049.5" y="491.9"/><use href="#m3" x="1052.0" y="488.7"/><use href="#m3" x="1053.5" y="485.6"/><use href="#m3" x="1054.0" y="482.4"/><use href="#m3" x="1056.5" y="479.3"/><use href="#m3" x="1058.9" y="476.2"/><use href="#m3" x="1060.9" y="473.2"/><use href="#m3" x="1063.4" y="470.2"/><use href="#m3" x="1065.2" y="467.0"/><use href="#m3" x="1066.7" y="463.9"/><use href="#m3" x="1069.5" y="460.8"/><use href="#m3" x="1073.1" y="457.7"/><use href="#m3" x="1074.8" y="454.6"/><use href="#m3" x="1078.4" y="451.4"/><use href="#m3" x="1081.6" y="448.3"/><use href="#m3" x="1083.8" y="445.3"/><use href="#m3" x="1086.8" y="442.3"/><use href="#m3" x="1089.8" y="439.1"/><use href="#m3" x="1092.4" y="436.0"/><use href="#m3" x="1096.8" y="433.0"/><use href="#m3" x="1099.2" y="429.9"/><use href="#m3" x="1103.4" y="426.9"/><use href="#m3" x="1105.7" y="423.8"/><use href="#m3" x="1110.4" y="420.7"/><use href="#m3" x="1113.8" y="417.6"/><use href="#m3" x="1117.1" y="414.5"/><use href="#m3" x="1120.4" y="411.5"/><use href="#m3" x="1123.5" y="408.5"/><use href="#m3" x="1128.6" y="405.3"/><use href="#m3" x="1131.7" y="402.2"/><use href="#m3" x="1136.3" y="399.1"/><use href="#m3" x="1139.2" y="396.0"/><use href="#m3" x="1143.0" y="392.8"/><use href="#m3" x="1147.1" y="389.7"/><use href="#m3" x="1152.4" y="386.6"/><use href="#m3" x="1155.0" y="383.5"/><use href="#m3" x="1160.4" y="380.4"/><use href="#m3" x="1163.3" y="377.2"/><use href="#m3" x="1167.4" y="374.2"/><use href="#m3" x="1170.6" y="371.2"/><use href="#m3" x="1174.8" y="368.2"/><use href="#m3" x="1177.4" y="365.1"/><use href="#m3" x="1181.7" y="362.1"/><use href="#m3" x="1186.4" y="359.0"/><use href="#m3" x="1188.6" y="356.0"/><use href="#m3" x="1193.2" y="353.0"/><use href="#m3" x="1196.4" y="349.9"/><use href="#m3" x="1200.2" y="346.7"/><use href="#m3" x="1203.5" y="343.7"/><use href="#m3" x="1207.5" y="340.7"/><use href="#m3" x="1213.5" y="337.5"/><use href="#m3" x="1217.5" y="334.5"/><use href="#m3" x="1221.9" y="331.4"/><use href="#m3" x="1226.4" y="328.4"/><use href="#m3" x="1231.5" y="325.4"/><use href="#m3" x="1240.3" y="321.0"/><use href="#m3" x="1270.5" y="318.0"/><use href="#m3" x="1292.7" y="314.0"/><use href="#m3" x="1323.1" y="312.5"/><use href="#m3" x="1353.5" y="309.4"/><use href="#m3" x="1380.7" y="306.4"/><use href="#m3" x="1388.2" y="303.9"/><use href="#m3" x="1395.4" y="301.3"/><use href="#m3" x="1411.3" y="297.2"/><use href="#m3" x="1425.6" y="293.1"/><use href="#m3" x="1432.7" y="289.6"/><use href="#m3" x="1439.9" y="286.0"/><use href="#m3" x="1452.1" y="282.9"/><use href="#m3" x="1468.5" y="279.0"/></g></svg></body></html>
